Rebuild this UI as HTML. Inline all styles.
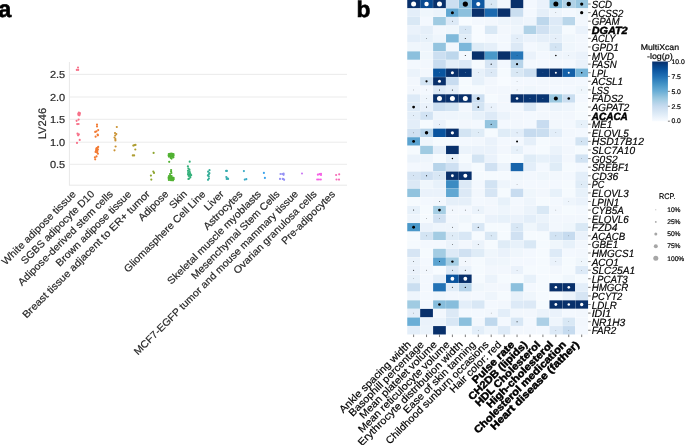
<!DOCTYPE html>
<html lang="en">
<head>
<meta charset="utf-8">
<title>LV246 figure</title>
<style>
html,body{margin:0;padding:0;background:#fff;}
body{width:685px;height:445px;overflow:hidden;font-family:"Liberation Sans",sans-serif;}
text{stroke-width:0.18px;}
svg{display:block;font-family:"Liberation Sans",sans-serif;will-change:transform;transform:translateZ(0);text-rendering:geometricPrecision;}
</style>
</head>
<body>
<svg width="685" height="445" viewBox="0 0 685 445">
<rect x="0" y="0" width="685" height="445" fill="#fff"/>
<g id="panel-a">
<line x1="69.4" x2="347.0" y1="74.4" y2="74.4" stroke="#e9e9e9" stroke-width="0.9"/>
<line x1="69.4" x2="347.0" y1="97.0" y2="97.0" stroke="#e9e9e9" stroke-width="0.9"/>
<line x1="69.4" x2="347.0" y1="119.3" y2="119.3" stroke="#e9e9e9" stroke-width="0.9"/>
<line x1="69.4" x2="347.0" y1="142.2" y2="142.2" stroke="#e9e9e9" stroke-width="0.9"/>
<line x1="69.4" x2="347.0" y1="164.3" y2="164.3" stroke="#e9e9e9" stroke-width="0.9"/>
<line x1="69.4" x2="69.4" y1="62.0" y2="185.2" stroke="#e8e8e8" stroke-width="1.0"/>
<line x1="68.9" x2="347.0" y1="185.2" y2="185.2" stroke="#e8e8e8" stroke-width="1.0"/>
<text x="65.2" y="78.30" font-size="10.15" text-anchor="end" textLength="15.27" lengthAdjust="spacingAndGlyphs" fill="#262626" stroke="#262626">2.5</text>
<text x="65.2" y="100.90" font-size="10.15" text-anchor="end" textLength="15.27" lengthAdjust="spacingAndGlyphs" fill="#262626" stroke="#262626">2.0</text>
<text x="65.2" y="123.20" font-size="10.15" text-anchor="end" textLength="15.27" lengthAdjust="spacingAndGlyphs" fill="#262626" stroke="#262626">1.5</text>
<text x="65.2" y="146.10" font-size="10.15" text-anchor="end" textLength="15.27" lengthAdjust="spacingAndGlyphs" fill="#262626" stroke="#262626">1.0</text>
<text x="65.2" y="168.20" font-size="10.15" text-anchor="end" textLength="15.27" lengthAdjust="spacingAndGlyphs" fill="#262626" stroke="#262626">0.5</text>
<text transform="translate(46.3,123.6) rotate(-90)" font-size="10.9" text-anchor="middle" textLength="31.31" lengthAdjust="spacingAndGlyphs" fill="#262626" stroke="#262626">LV246</text>
<g fill="#f77189">
<circle cx="78.0" cy="67.5" r="1.08"/>
<circle cx="76.8" cy="69.9" r="1.08"/>
<circle cx="78.2" cy="69.9" r="1.08"/>
<circle cx="79.0" cy="113.4" r="1.08"/>
<circle cx="79.6" cy="114.7" r="1.08"/>
<circle cx="78.4" cy="114.8" r="1.08"/>
<circle cx="78.9" cy="112.6" r="1.08"/>
<circle cx="79.9" cy="113.2" r="1.08"/>
<circle cx="78.3" cy="113.6" r="1.08"/>
<circle cx="79.2" cy="115.3" r="1.08"/>
<circle cx="78.6" cy="119.6" r="1.08"/>
<circle cx="76.6" cy="120.8" r="1.08"/>
<circle cx="77.2" cy="124.1" r="1.08"/>
<circle cx="78.6" cy="124.0" r="1.08"/>
<circle cx="77.5" cy="133.7" r="1.08"/>
<circle cx="78.8" cy="134.4" r="1.08"/>
<circle cx="78.1" cy="135.3" r="1.08"/>
<circle cx="79.7" cy="139.9" r="1.08"/>
<circle cx="77.0" cy="142.9" r="1.08"/>
</g>
<g fill="#f37a32">
<circle cx="97.0" cy="124.7" r="1.08"/>
<circle cx="97.0" cy="126.5" r="1.08"/>
<circle cx="98.2" cy="130.1" r="1.08"/>
<circle cx="96.5" cy="131.3" r="1.08"/>
<circle cx="95.2" cy="131.9" r="1.08"/>
<circle cx="97.6" cy="134.6" r="1.08"/>
<circle cx="97.9" cy="135.3" r="1.08"/>
<circle cx="95.6" cy="136.7" r="1.08"/>
<circle cx="98.2" cy="146.9" r="1.08"/>
<circle cx="96.5" cy="148.3" r="1.08"/>
<circle cx="97.9" cy="149.4" r="1.08"/>
<circle cx="96.1" cy="150.3" r="1.08"/>
<circle cx="97.4" cy="151.0" r="1.08"/>
<circle cx="95.6" cy="151.9" r="1.08"/>
<circle cx="97.0" cy="152.5" r="1.08"/>
<circle cx="97.9" cy="153.7" r="1.08"/>
<circle cx="96.4" cy="149.2" r="1.08"/>
<circle cx="97.2" cy="147.8" r="1.08"/>
<circle cx="96.9" cy="150.6" r="1.08"/>
<circle cx="96.5" cy="156.4" r="1.08"/>
<circle cx="94.9" cy="157.3" r="1.08"/>
<circle cx="95.2" cy="159.3" r="1.08"/>
</g>
<g fill="#ca9232">
<circle cx="116.8" cy="127.0" r="1.08"/>
<circle cx="115.0" cy="133.0" r="1.08"/>
<circle cx="116.3" cy="134.1" r="1.08"/>
<circle cx="115.2" cy="135.5" r="1.08"/>
<circle cx="114.5" cy="137.5" r="1.08"/>
<circle cx="115.4" cy="139.1" r="1.08"/>
<circle cx="115.4" cy="140.4" r="1.08"/>
<circle cx="115.6" cy="146.5" r="1.08"/>
<circle cx="114.5" cy="150.3" r="1.08"/>
</g>
<g fill="#ae9d31">
<circle cx="133.3" cy="145.6" r="1.08"/>
<circle cx="134.4" cy="145.2" r="1.08"/>
<circle cx="135.5" cy="144.9" r="1.08"/>
<circle cx="135.3" cy="149.5" r="1.08"/>
<circle cx="132.8" cy="155.4" r="1.08"/>
<circle cx="134.1" cy="155.4" r="1.08"/>
</g>
<g fill="#8ea631">
<circle cx="153.6" cy="152.9" r="1.08"/>
<circle cx="153.3" cy="171.6" r="1.08"/>
<circle cx="154.0" cy="172.9" r="1.08"/>
<circle cx="150.9" cy="175.6" r="1.08"/>
<circle cx="151.3" cy="179.6" r="1.08"/>
</g>
<g fill="#50b131">
<circle cx="168.8" cy="154.0" r="1.08"/>
<circle cx="170.0" cy="153.8" r="1.08"/>
<circle cx="171.2" cy="153.6" r="1.08"/>
<circle cx="172.4" cy="153.9" r="1.08"/>
<circle cx="173.5" cy="154.2" r="1.08"/>
<circle cx="168.6" cy="155.3" r="1.08"/>
<circle cx="169.8" cy="155.2" r="1.08"/>
<circle cx="171.0" cy="155.0" r="1.08"/>
<circle cx="172.2" cy="155.3" r="1.08"/>
<circle cx="173.6" cy="155.6" r="1.08"/>
<circle cx="168.9" cy="156.6" r="1.08"/>
<circle cx="170.2" cy="156.5" r="1.08"/>
<circle cx="171.5" cy="156.6" r="1.08"/>
<circle cx="172.8" cy="156.8" r="1.08"/>
<circle cx="173.4" cy="157.3" r="1.08"/>
<circle cx="170.6" cy="157.8" r="1.08"/>
<circle cx="171.6" cy="158.6" r="1.08"/>
<circle cx="169.2" cy="161.8" r="1.08"/>
<circle cx="171.1" cy="170.0" r="1.08"/>
<circle cx="171.1" cy="171.5" r="1.08"/>
<circle cx="170.0" cy="174.0" r="1.08"/>
<circle cx="171.4" cy="173.0" r="1.08"/>
<circle cx="169.0" cy="176.0" r="1.08"/>
<circle cx="170.3" cy="175.8" r="1.08"/>
<circle cx="171.6" cy="176.0" r="1.08"/>
<circle cx="168.6" cy="177.3" r="1.08"/>
<circle cx="169.9" cy="177.2" r="1.08"/>
<circle cx="171.2" cy="177.3" r="1.08"/>
<circle cx="172.5" cy="177.5" r="1.08"/>
<circle cx="173.6" cy="177.8" r="1.08"/>
<circle cx="168.7" cy="178.7" r="1.08"/>
<circle cx="170.0" cy="178.6" r="1.08"/>
<circle cx="171.3" cy="178.7" r="1.08"/>
<circle cx="172.6" cy="178.9" r="1.08"/>
<circle cx="173.7" cy="179.2" r="1.08"/>
<circle cx="168.9" cy="180.0" r="1.08"/>
<circle cx="170.3" cy="180.1" r="1.08"/>
<circle cx="171.7" cy="180.2" r="1.08"/>
<circle cx="173.0" cy="180.3" r="1.08"/>
</g>
<g fill="#33b07a">
<circle cx="189.7" cy="161.7" r="1.08"/>
<circle cx="187.9" cy="166.4" r="1.08"/>
<circle cx="188.4" cy="168.6" r="1.08"/>
<circle cx="189.4" cy="169.6" r="1.08"/>
<circle cx="188.0" cy="170.8" r="1.08"/>
<circle cx="189.6" cy="171.4" r="1.08"/>
<circle cx="188.3" cy="172.6" r="1.08"/>
<circle cx="190.0" cy="173.0" r="1.08"/>
<circle cx="188.0" cy="174.2" r="1.08"/>
<circle cx="189.4" cy="174.6" r="1.08"/>
<circle cx="190.4" cy="174.0" r="1.08"/>
<circle cx="188.6" cy="175.8" r="1.08"/>
<circle cx="190.0" cy="176.0" r="1.08"/>
<circle cx="191.2" cy="175.2" r="1.08"/>
<circle cx="190.3" cy="177.4" r="1.08"/>
<circle cx="189.0" cy="178.6" r="1.08"/>
<circle cx="188.4" cy="179.0" r="1.08"/>
</g>
<g fill="#35ae99">
<circle cx="209.5" cy="170.2" r="1.08"/>
<circle cx="208.1" cy="171.7" r="1.08"/>
<circle cx="208.8" cy="174.4" r="1.08"/>
<circle cx="207.9" cy="175.4" r="1.08"/>
<circle cx="208.8" cy="176.5" r="1.08"/>
<circle cx="208.9" cy="178.6" r="1.08"/>
<circle cx="208.0" cy="179.8" r="1.08"/>
<circle cx="209.4" cy="173.2" r="1.08"/>
</g>
<g fill="#36acae">
<circle cx="226.1" cy="170.9" r="1.08"/>
<circle cx="226.9" cy="170.9" r="1.08"/>
<circle cx="226.3" cy="177.0" r="1.08"/>
<circle cx="227.4" cy="178.3" r="1.08"/>
<circle cx="226.7" cy="178.9" r="1.08"/>
<circle cx="228.1" cy="178.9" r="1.08"/>
</g>
<g fill="#38a9c5">
<circle cx="243.9" cy="171.1" r="1.08"/>
<circle cx="244.8" cy="179.6" r="1.08"/>
<circle cx="246.3" cy="179.2" r="1.08"/>
</g>
<g fill="#3ba3ec">
<circle cx="263.9" cy="172.9" r="1.08"/>
<circle cx="264.9" cy="177.9" r="1.08"/>
</g>
<g fill="#9591f4">
<circle cx="280.5" cy="174.0" r="1.08"/>
<circle cx="282.3" cy="174.0" r="1.08"/>
<circle cx="283.6" cy="173.5" r="1.08"/>
<circle cx="283.6" cy="174.8" r="1.08"/>
<circle cx="280.0" cy="178.9" r="1.08"/>
<circle cx="282.7" cy="178.9" r="1.08"/>
<circle cx="284.1" cy="179.8" r="1.08"/>
<circle cx="283.4" cy="179.0" r="1.08"/>
</g>
<g fill="#cc7af4">
<circle cx="302.0" cy="173.5" r="1.08"/>
</g>
<g fill="#f560e4">
<circle cx="317.9" cy="174.7" r="1.08"/>
<circle cx="319.5" cy="174.2" r="1.08"/>
<circle cx="321.0" cy="173.8" r="1.08"/>
<circle cx="321.0" cy="175.0" r="1.08"/>
<circle cx="317.2" cy="179.5" r="1.08"/>
<circle cx="318.9" cy="179.5" r="1.08"/>
<circle cx="320.8" cy="179.5" r="1.08"/>
</g>
<g fill="#f66ab7">
<circle cx="336.1" cy="175.0" r="1.08"/>
<circle cx="339.2" cy="174.3" r="1.08"/>
<circle cx="336.5" cy="179.5" r="1.08"/>
<circle cx="339.0" cy="179.6" r="1.08"/>
</g>
<text transform="translate(76.50,194.7) rotate(-45)" font-size="10.15" text-anchor="end" textLength="99.96" lengthAdjust="spacingAndGlyphs" fill="#262626" stroke="#262626">White adipose tissue</text>
<text transform="translate(95.02,194.7) rotate(-45)" font-size="10.15" text-anchor="end" textLength="99.00" lengthAdjust="spacingAndGlyphs" fill="#262626" stroke="#262626">SGBS adipocyte D10</text>
<text transform="translate(113.54,194.7) rotate(-45)" font-size="10.15" text-anchor="end" textLength="129.44" lengthAdjust="spacingAndGlyphs" fill="#262626" stroke="#262626">Adipose-derived stem cells</text>
<text transform="translate(132.06,194.7) rotate(-45)" font-size="10.15" text-anchor="end" textLength="102.18" lengthAdjust="spacingAndGlyphs" fill="#262626" stroke="#262626">Brown adipose tissue</text>
<text transform="translate(150.58,194.7) rotate(-45)" font-size="10.15" text-anchor="end" textLength="175.56" lengthAdjust="spacingAndGlyphs" fill="#262626" stroke="#262626">Breast tissue adjacent to ER+ tumor</text>
<text transform="translate(169.10,194.7) rotate(-45)" font-size="10.15" text-anchor="end" textLength="38.03" lengthAdjust="spacingAndGlyphs" fill="#262626" stroke="#262626">Adipose</text>
<text transform="translate(187.62,194.7) rotate(-45)" font-size="10.15" text-anchor="end" textLength="20.41" lengthAdjust="spacingAndGlyphs" fill="#262626" stroke="#262626">Skin</text>
<text transform="translate(206.14,194.7) rotate(-45)" font-size="10.15" text-anchor="end" textLength="110.66" lengthAdjust="spacingAndGlyphs" fill="#262626" stroke="#262626">Gliomasphere Cell Line</text>
<text transform="translate(224.66,194.7) rotate(-45)" font-size="10.15" text-anchor="end" textLength="23.55" lengthAdjust="spacingAndGlyphs" fill="#262626" stroke="#262626">Liver</text>
<text transform="translate(243.18,194.7) rotate(-45)" font-size="10.15" text-anchor="end" textLength="50.57" lengthAdjust="spacingAndGlyphs" fill="#262626" stroke="#262626">Astrocytes</text>
<text transform="translate(261.70,194.7) rotate(-45)" font-size="10.15" text-anchor="end" textLength="127.82" lengthAdjust="spacingAndGlyphs" fill="#262626" stroke="#262626">Skeletal muscle myoblasts</text>
<text transform="translate(280.22,194.7) rotate(-45)" font-size="10.15" text-anchor="end" textLength="120.29" lengthAdjust="spacingAndGlyphs" fill="#262626" stroke="#262626">Mesenchymal Stem Cells</text>
<text transform="translate(298.74,194.7) rotate(-45)" font-size="10.15" text-anchor="end" textLength="227.33" lengthAdjust="spacingAndGlyphs" fill="#262626" stroke="#262626">MCF7-EGFP tumor and mouse mammary tissue</text>
<text transform="translate(317.26,194.7) rotate(-45)" font-size="10.15" text-anchor="end" textLength="112.84" lengthAdjust="spacingAndGlyphs" fill="#262626" stroke="#262626">Ovarian granulosa cells</text>
<text transform="translate(335.78,194.7) rotate(-45)" font-size="10.15" text-anchor="end" textLength="70.97" lengthAdjust="spacingAndGlyphs" fill="#262626" stroke="#262626">Pre-adipocytes</text>
</g>
<g id="panel-b">
<g shape-rendering="auto">
<rect x="407.25" y="-0.15" width="12.73" height="8.39" fill="#08306b"/>
<rect x="420.18" y="-0.15" width="12.73" height="8.39" fill="#084a91"/>
<rect x="433.11" y="-0.15" width="12.73" height="8.39" fill="#08306b"/>
<rect x="446.04" y="-0.15" width="12.73" height="8.39" fill="#ccdff1"/>
<rect x="458.97" y="-0.15" width="12.73" height="8.39" fill="#87bddc"/>
<rect x="471.90" y="-0.15" width="12.73" height="8.39" fill="#0d57a1"/>
<rect x="484.83" y="-0.15" width="12.73" height="8.39" fill="#d9e8f5"/>
<rect x="497.76" y="-0.15" width="12.73" height="8.39" fill="#f2f7fd"/>
<rect x="510.69" y="-0.15" width="12.73" height="8.39" fill="#08306b"/>
<rect x="523.62" y="-0.15" width="12.73" height="8.39" fill="#f3f8fe"/>
<rect x="536.55" y="-0.15" width="12.73" height="8.39" fill="#eaf2fb"/>
<rect x="549.48" y="-0.15" width="12.73" height="8.39" fill="#84bcdb"/>
<rect x="562.41" y="-0.15" width="12.73" height="8.39" fill="#b0d2e7"/>
<rect x="575.34" y="-0.15" width="12.73" height="8.39" fill="#99c7e0"/>
<rect x="407.25" y="8.44" width="12.73" height="8.39" fill="#e3eef9"/>
<rect x="420.18" y="8.44" width="12.73" height="8.39" fill="#eff6fc"/>
<rect x="433.11" y="8.44" width="12.73" height="8.39" fill="#ebf3fb"/>
<rect x="446.04" y="8.44" width="12.73" height="8.39" fill="#61a7d2"/>
<rect x="458.97" y="8.44" width="12.73" height="8.39" fill="#8cc0dd"/>
<rect x="471.90" y="8.44" width="12.73" height="8.39" fill="#08306b"/>
<rect x="484.83" y="8.44" width="12.73" height="8.39" fill="#1b69af"/>
<rect x="497.76" y="8.44" width="12.73" height="8.39" fill="#08306b"/>
<rect x="510.69" y="8.44" width="12.73" height="8.39" fill="#cadef0"/>
<rect x="523.62" y="8.44" width="12.73" height="8.39" fill="#f3f8fe"/>
<rect x="536.55" y="8.44" width="12.73" height="8.39" fill="#e5eff9"/>
<rect x="549.48" y="8.44" width="12.73" height="8.39" fill="#eef5fc"/>
<rect x="562.41" y="8.44" width="12.73" height="8.39" fill="#f3f8fe"/>
<rect x="575.34" y="8.44" width="12.73" height="8.39" fill="#eff6fc"/>
<rect x="407.25" y="17.02" width="12.73" height="8.39" fill="#d9e8f5"/>
<rect x="420.18" y="17.02" width="12.73" height="8.39" fill="#f3f8fe"/>
<rect x="433.11" y="17.02" width="12.73" height="8.39" fill="#a0cbe2"/>
<rect x="446.04" y="17.02" width="12.73" height="8.39" fill="#ddeaf7"/>
<rect x="458.97" y="17.02" width="12.73" height="8.39" fill="#f7fbff"/>
<rect x="471.90" y="17.02" width="12.73" height="8.39" fill="#f3f8fe"/>
<rect x="484.83" y="17.02" width="12.73" height="8.39" fill="#f2f7fd"/>
<rect x="497.76" y="17.02" width="12.73" height="8.39" fill="#eef5fc"/>
<rect x="510.69" y="17.02" width="12.73" height="8.39" fill="#ebf3fb"/>
<rect x="523.62" y="17.02" width="12.73" height="8.39" fill="#eef5fc"/>
<rect x="536.55" y="17.02" width="12.73" height="8.39" fill="#bdd7ec"/>
<rect x="549.48" y="17.02" width="12.73" height="8.39" fill="#ddeaf7"/>
<rect x="562.41" y="17.02" width="12.73" height="8.39" fill="#b9d6ea"/>
<rect x="575.34" y="17.02" width="12.73" height="8.39" fill="#f2f7fd"/>
<rect x="407.25" y="25.61" width="12.73" height="8.39" fill="#eaf2fb"/>
<rect x="420.18" y="25.61" width="12.73" height="8.39" fill="#e5eff9"/>
<rect x="433.11" y="25.61" width="12.73" height="8.39" fill="#f2f7fd"/>
<rect x="446.04" y="25.61" width="12.73" height="8.39" fill="#eff6fc"/>
<rect x="458.97" y="25.61" width="12.73" height="8.39" fill="#d8e7f5"/>
<rect x="471.90" y="25.61" width="12.73" height="8.39" fill="#f7fbff"/>
<rect x="484.83" y="25.61" width="12.73" height="8.39" fill="#d9e8f5"/>
<rect x="497.76" y="25.61" width="12.73" height="8.39" fill="#f2f7fd"/>
<rect x="510.69" y="25.61" width="12.73" height="8.39" fill="#eef5fc"/>
<rect x="523.62" y="25.61" width="12.73" height="8.39" fill="#b0d2e7"/>
<rect x="536.55" y="25.61" width="12.73" height="8.39" fill="#d0e1f2"/>
<rect x="549.48" y="25.61" width="12.73" height="8.39" fill="#dfecf7"/>
<rect x="562.41" y="25.61" width="12.73" height="8.39" fill="#f5fafe"/>
<rect x="575.34" y="25.61" width="12.73" height="8.39" fill="#eaf2fb"/>
<rect x="407.25" y="34.19" width="12.73" height="8.39" fill="#e3eef9"/>
<rect x="420.18" y="34.19" width="12.73" height="8.39" fill="#e7f1fa"/>
<rect x="433.11" y="34.19" width="12.73" height="8.39" fill="#eef5fc"/>
<rect x="446.04" y="34.19" width="12.73" height="8.39" fill="#7fb9da"/>
<rect x="458.97" y="34.19" width="12.73" height="8.39" fill="#e1edf8"/>
<rect x="471.90" y="34.19" width="12.73" height="8.39" fill="#f7fbff"/>
<rect x="484.83" y="34.19" width="12.73" height="8.39" fill="#f3f8fe"/>
<rect x="497.76" y="34.19" width="12.73" height="8.39" fill="#f3f8fe"/>
<rect x="510.69" y="34.19" width="12.73" height="8.39" fill="#e3eef9"/>
<rect x="523.62" y="34.19" width="12.73" height="8.39" fill="#eaf2fb"/>
<rect x="536.55" y="34.19" width="12.73" height="8.39" fill="#e5eff9"/>
<rect x="549.48" y="34.19" width="12.73" height="8.39" fill="#e5eff9"/>
<rect x="562.41" y="34.19" width="12.73" height="8.39" fill="#eff6fc"/>
<rect x="575.34" y="34.19" width="12.73" height="8.39" fill="#f2f7fd"/>
<rect x="407.25" y="42.78" width="12.73" height="8.39" fill="#eff6fc"/>
<rect x="420.18" y="42.78" width="12.73" height="8.39" fill="#eef5fc"/>
<rect x="433.11" y="42.78" width="12.73" height="8.39" fill="#94c4df"/>
<rect x="446.04" y="42.78" width="12.73" height="8.39" fill="#f2f7fd"/>
<rect x="458.97" y="42.78" width="12.73" height="8.39" fill="#7cb7da"/>
<rect x="471.90" y="42.78" width="12.73" height="8.39" fill="#dfecf7"/>
<rect x="484.83" y="42.78" width="12.73" height="8.39" fill="#e5eff9"/>
<rect x="497.76" y="42.78" width="12.73" height="8.39" fill="#f3f8fe"/>
<rect x="510.69" y="42.78" width="12.73" height="8.39" fill="#dce9f6"/>
<rect x="523.62" y="42.78" width="12.73" height="8.39" fill="#f3f8fe"/>
<rect x="536.55" y="42.78" width="12.73" height="8.39" fill="#eff6fc"/>
<rect x="549.48" y="42.78" width="12.73" height="8.39" fill="#d3e4f3"/>
<rect x="562.41" y="42.78" width="12.73" height="8.39" fill="#eff6fc"/>
<rect x="575.34" y="42.78" width="12.73" height="8.39" fill="#f2f7fd"/>
<rect x="407.25" y="51.36" width="12.73" height="8.39" fill="#8cc0dd"/>
<rect x="420.18" y="51.36" width="12.73" height="8.39" fill="#eff6fc"/>
<rect x="433.11" y="51.36" width="12.73" height="8.39" fill="#ccdff1"/>
<rect x="446.04" y="51.36" width="12.73" height="8.39" fill="#bdd7ec"/>
<rect x="458.97" y="51.36" width="12.73" height="8.39" fill="#f3f8fe"/>
<rect x="471.90" y="51.36" width="12.73" height="8.39" fill="#08306b"/>
<rect x="484.83" y="51.36" width="12.73" height="8.39" fill="#4a98c9"/>
<rect x="497.76" y="51.36" width="12.73" height="8.39" fill="#08306b"/>
<rect x="510.69" y="51.36" width="12.73" height="8.39" fill="#2676b8"/>
<rect x="523.62" y="51.36" width="12.73" height="8.39" fill="#eaf2fb"/>
<rect x="536.55" y="51.36" width="12.73" height="8.39" fill="#f3f8fe"/>
<rect x="549.48" y="51.36" width="12.73" height="8.39" fill="#eef5fc"/>
<rect x="562.41" y="51.36" width="12.73" height="8.39" fill="#eef5fc"/>
<rect x="575.34" y="51.36" width="12.73" height="8.39" fill="#eaf2fb"/>
<rect x="407.25" y="59.95" width="12.73" height="8.39" fill="#f3f8fe"/>
<rect x="420.18" y="59.95" width="12.73" height="8.39" fill="#f2f7fd"/>
<rect x="433.11" y="59.95" width="12.73" height="8.39" fill="#c8dcf0"/>
<rect x="446.04" y="59.95" width="12.73" height="8.39" fill="#e3eef9"/>
<rect x="458.97" y="59.95" width="12.73" height="8.39" fill="#ddeaf7"/>
<rect x="471.90" y="59.95" width="12.73" height="8.39" fill="#f5fafe"/>
<rect x="484.83" y="59.95" width="12.73" height="8.39" fill="#d6e5f4"/>
<rect x="497.76" y="59.95" width="12.73" height="8.39" fill="#f3f8fe"/>
<rect x="510.69" y="59.95" width="12.73" height="8.39" fill="#b7d4ea"/>
<rect x="523.62" y="59.95" width="12.73" height="8.39" fill="#f3f8fe"/>
<rect x="536.55" y="59.95" width="12.73" height="8.39" fill="#f3f8fe"/>
<rect x="549.48" y="59.95" width="12.73" height="8.39" fill="#f3f8fe"/>
<rect x="562.41" y="59.95" width="12.73" height="8.39" fill="#f3f8fe"/>
<rect x="575.34" y="59.95" width="12.73" height="8.39" fill="#eaf2fb"/>
<rect x="407.25" y="68.53" width="12.73" height="8.39" fill="#ebf3fb"/>
<rect x="420.18" y="68.53" width="12.73" height="8.39" fill="#f2f7fd"/>
<rect x="433.11" y="68.53" width="12.73" height="8.39" fill="#0a549e"/>
<rect x="446.04" y="68.53" width="12.73" height="8.39" fill="#08306b"/>
<rect x="458.97" y="68.53" width="12.73" height="8.39" fill="#083573"/>
<rect x="471.90" y="68.53" width="12.73" height="8.39" fill="#e7f1fa"/>
<rect x="484.83" y="68.53" width="12.73" height="8.39" fill="#dce9f6"/>
<rect x="497.76" y="68.53" width="12.73" height="8.39" fill="#f5fafe"/>
<rect x="510.69" y="68.53" width="12.73" height="8.39" fill="#d9e8f5"/>
<rect x="523.62" y="68.53" width="12.73" height="8.39" fill="#ccdff1"/>
<rect x="536.55" y="68.53" width="12.73" height="8.39" fill="#083776"/>
<rect x="549.48" y="68.53" width="12.73" height="8.39" fill="#08306b"/>
<rect x="562.41" y="68.53" width="12.73" height="8.39" fill="#135fa7"/>
<rect x="575.34" y="68.53" width="12.73" height="8.39" fill="#77b5d9"/>
<rect x="407.25" y="77.12" width="12.73" height="8.39" fill="#f2f7fd"/>
<rect x="420.18" y="77.12" width="12.73" height="8.39" fill="#d3e4f3"/>
<rect x="433.11" y="77.12" width="12.73" height="8.39" fill="#08306b"/>
<rect x="446.04" y="77.12" width="12.73" height="8.39" fill="#c8dcf0"/>
<rect x="458.97" y="77.12" width="12.73" height="8.39" fill="#f5fafe"/>
<rect x="471.90" y="77.12" width="12.73" height="8.39" fill="#e7f1fa"/>
<rect x="484.83" y="77.12" width="12.73" height="8.39" fill="#f2f7fd"/>
<rect x="497.76" y="77.12" width="12.73" height="8.39" fill="#f7fbff"/>
<rect x="510.69" y="77.12" width="12.73" height="8.39" fill="#f3f8fe"/>
<rect x="523.62" y="77.12" width="12.73" height="8.39" fill="#f3f8fe"/>
<rect x="536.55" y="77.12" width="12.73" height="8.39" fill="#f2f7fd"/>
<rect x="549.48" y="77.12" width="12.73" height="8.39" fill="#f2f7fd"/>
<rect x="562.41" y="77.12" width="12.73" height="8.39" fill="#f2f7fd"/>
<rect x="575.34" y="77.12" width="12.73" height="8.39" fill="#f3f8fe"/>
<rect x="407.25" y="85.70" width="12.73" height="8.39" fill="#f2f7fd"/>
<rect x="420.18" y="85.70" width="12.73" height="8.39" fill="#f3f8fe"/>
<rect x="433.11" y="85.70" width="12.73" height="8.39" fill="#ddeaf7"/>
<rect x="446.04" y="85.70" width="12.73" height="8.39" fill="#e5eff9"/>
<rect x="458.97" y="85.70" width="12.73" height="8.39" fill="#f5fafe"/>
<rect x="471.90" y="85.70" width="12.73" height="8.39" fill="#f5fafe"/>
<rect x="484.83" y="85.70" width="12.73" height="8.39" fill="#f2f7fd"/>
<rect x="497.76" y="85.70" width="12.73" height="8.39" fill="#f2f7fd"/>
<rect x="510.69" y="85.70" width="12.73" height="8.39" fill="#f2f7fd"/>
<rect x="523.62" y="85.70" width="12.73" height="8.39" fill="#eff6fc"/>
<rect x="536.55" y="85.70" width="12.73" height="8.39" fill="#f2f7fd"/>
<rect x="549.48" y="85.70" width="12.73" height="8.39" fill="#f3f8fe"/>
<rect x="562.41" y="85.70" width="12.73" height="8.39" fill="#f3f8fe"/>
<rect x="575.34" y="85.70" width="12.73" height="8.39" fill="#eff6fc"/>
<rect x="407.25" y="94.28" width="12.73" height="8.39" fill="#ddeaf7"/>
<rect x="420.18" y="94.28" width="12.73" height="8.39" fill="#eef5fc"/>
<rect x="433.11" y="94.28" width="12.73" height="8.39" fill="#08306b"/>
<rect x="446.04" y="94.28" width="12.73" height="8.39" fill="#08306b"/>
<rect x="458.97" y="94.28" width="12.73" height="8.39" fill="#08306b"/>
<rect x="471.90" y="94.28" width="12.73" height="8.39" fill="#ccdff1"/>
<rect x="484.83" y="94.28" width="12.73" height="8.39" fill="#f5fafe"/>
<rect x="497.76" y="94.28" width="12.73" height="8.39" fill="#f2f7fd"/>
<rect x="510.69" y="94.28" width="12.73" height="8.39" fill="#08306b"/>
<rect x="523.62" y="94.28" width="12.73" height="8.39" fill="#083573"/>
<rect x="536.55" y="94.28" width="12.73" height="8.39" fill="#083573"/>
<rect x="549.48" y="94.28" width="12.73" height="8.39" fill="#9cc9e1"/>
<rect x="562.41" y="94.28" width="12.73" height="8.39" fill="#cadef0"/>
<rect x="575.34" y="94.28" width="12.73" height="8.39" fill="#f3f8fe"/>
<rect x="407.25" y="102.87" width="12.73" height="8.39" fill="#ddeaf7"/>
<rect x="420.18" y="102.87" width="12.73" height="8.39" fill="#eaf2fb"/>
<rect x="433.11" y="102.87" width="12.73" height="8.39" fill="#ccdff1"/>
<rect x="446.04" y="102.87" width="12.73" height="8.39" fill="#d3e4f3"/>
<rect x="458.97" y="102.87" width="12.73" height="8.39" fill="#f2f7fd"/>
<rect x="471.90" y="102.87" width="12.73" height="8.39" fill="#d3e4f3"/>
<rect x="484.83" y="102.87" width="12.73" height="8.39" fill="#eaf2fb"/>
<rect x="497.76" y="102.87" width="12.73" height="8.39" fill="#f2f7fd"/>
<rect x="510.69" y="102.87" width="12.73" height="8.39" fill="#f2f7fd"/>
<rect x="523.62" y="102.87" width="12.73" height="8.39" fill="#dce9f6"/>
<rect x="536.55" y="102.87" width="12.73" height="8.39" fill="#f2f7fd"/>
<rect x="549.48" y="102.87" width="12.73" height="8.39" fill="#ebf3fb"/>
<rect x="562.41" y="102.87" width="12.73" height="8.39" fill="#eef5fc"/>
<rect x="575.34" y="102.87" width="12.73" height="8.39" fill="#f5fafe"/>
<rect x="407.25" y="111.46" width="12.73" height="8.39" fill="#e3eef9"/>
<rect x="420.18" y="111.46" width="12.73" height="8.39" fill="#d2e3f3"/>
<rect x="433.11" y="111.46" width="12.73" height="8.39" fill="#eef5fc"/>
<rect x="446.04" y="111.46" width="12.73" height="8.39" fill="#eef5fc"/>
<rect x="458.97" y="111.46" width="12.73" height="8.39" fill="#eff6fc"/>
<rect x="471.90" y="111.46" width="12.73" height="8.39" fill="#e7f1fa"/>
<rect x="484.83" y="111.46" width="12.73" height="8.39" fill="#ddeaf7"/>
<rect x="497.76" y="111.46" width="12.73" height="8.39" fill="#ebf3fb"/>
<rect x="510.69" y="111.46" width="12.73" height="8.39" fill="#f2f7fd"/>
<rect x="523.62" y="111.46" width="12.73" height="8.39" fill="#f3f8fe"/>
<rect x="536.55" y="111.46" width="12.73" height="8.39" fill="#f2f7fd"/>
<rect x="549.48" y="111.46" width="12.73" height="8.39" fill="#f2f7fd"/>
<rect x="562.41" y="111.46" width="12.73" height="8.39" fill="#f2f7fd"/>
<rect x="575.34" y="111.46" width="12.73" height="8.39" fill="#f5fafe"/>
<rect x="407.25" y="120.04" width="12.73" height="8.39" fill="#e3eef9"/>
<rect x="420.18" y="120.04" width="12.73" height="8.39" fill="#f5fafe"/>
<rect x="433.11" y="120.04" width="12.73" height="8.39" fill="#eaf2fb"/>
<rect x="446.04" y="120.04" width="12.73" height="8.39" fill="#f5fafe"/>
<rect x="458.97" y="120.04" width="12.73" height="8.39" fill="#f2f7fd"/>
<rect x="471.90" y="120.04" width="12.73" height="8.39" fill="#f3f8fe"/>
<rect x="484.83" y="120.04" width="12.73" height="8.39" fill="#94c4df"/>
<rect x="497.76" y="120.04" width="12.73" height="8.39" fill="#f3f8fe"/>
<rect x="510.69" y="120.04" width="12.73" height="8.39" fill="#f2f7fd"/>
<rect x="523.62" y="120.04" width="12.73" height="8.39" fill="#f3f8fe"/>
<rect x="536.55" y="120.04" width="12.73" height="8.39" fill="#c8dcf0"/>
<rect x="549.48" y="120.04" width="12.73" height="8.39" fill="#f2f7fd"/>
<rect x="562.41" y="120.04" width="12.73" height="8.39" fill="#f3f8fe"/>
<rect x="575.34" y="120.04" width="12.73" height="8.39" fill="#e7f1fa"/>
<rect x="407.25" y="128.62" width="12.73" height="8.39" fill="#d0e1f2"/>
<rect x="420.18" y="128.62" width="12.73" height="8.39" fill="#b7d4ea"/>
<rect x="433.11" y="128.62" width="12.73" height="8.39" fill="#0a549e"/>
<rect x="446.04" y="128.62" width="12.73" height="8.39" fill="#08306b"/>
<rect x="458.97" y="128.62" width="12.73" height="8.39" fill="#d3e4f3"/>
<rect x="471.90" y="128.62" width="12.73" height="8.39" fill="#dfecf7"/>
<rect x="484.83" y="128.62" width="12.73" height="8.39" fill="#f5fafe"/>
<rect x="497.76" y="128.62" width="12.73" height="8.39" fill="#dfecf7"/>
<rect x="510.69" y="128.62" width="12.73" height="8.39" fill="#e3eef9"/>
<rect x="523.62" y="128.62" width="12.73" height="8.39" fill="#c6dbef"/>
<rect x="536.55" y="128.62" width="12.73" height="8.39" fill="#cadef0"/>
<rect x="549.48" y="128.62" width="12.73" height="8.39" fill="#e3eef9"/>
<rect x="562.41" y="128.62" width="12.73" height="8.39" fill="#f2f7fd"/>
<rect x="575.34" y="128.62" width="12.73" height="8.39" fill="#f3f8fe"/>
<rect x="407.25" y="137.21" width="12.73" height="8.39" fill="#5ba3d0"/>
<rect x="420.18" y="137.21" width="12.73" height="8.39" fill="#eff6fc"/>
<rect x="433.11" y="137.21" width="12.73" height="8.39" fill="#f5fafe"/>
<rect x="446.04" y="137.21" width="12.73" height="8.39" fill="#f5fafe"/>
<rect x="458.97" y="137.21" width="12.73" height="8.39" fill="#f3f8fe"/>
<rect x="471.90" y="137.21" width="12.73" height="8.39" fill="#f2f7fd"/>
<rect x="484.83" y="137.21" width="12.73" height="8.39" fill="#eaf2fb"/>
<rect x="497.76" y="137.21" width="12.73" height="8.39" fill="#f3f8fe"/>
<rect x="510.69" y="137.21" width="12.73" height="8.39" fill="#f3f8fe"/>
<rect x="523.62" y="137.21" width="12.73" height="8.39" fill="#e5eff9"/>
<rect x="536.55" y="137.21" width="12.73" height="8.39" fill="#f5fafe"/>
<rect x="549.48" y="137.21" width="12.73" height="8.39" fill="#f2f7fd"/>
<rect x="562.41" y="137.21" width="12.73" height="8.39" fill="#f3f8fe"/>
<rect x="575.34" y="137.21" width="12.73" height="8.39" fill="#d3e4f3"/>
<rect x="407.25" y="145.80" width="12.73" height="8.39" fill="#f5fafe"/>
<rect x="420.18" y="145.80" width="12.73" height="8.39" fill="#a0cbe2"/>
<rect x="433.11" y="145.80" width="12.73" height="8.39" fill="#e3eef9"/>
<rect x="446.04" y="145.80" width="12.73" height="8.39" fill="#08306b"/>
<rect x="458.97" y="145.80" width="12.73" height="8.39" fill="#ebf3fb"/>
<rect x="471.90" y="145.80" width="12.73" height="8.39" fill="#eaf2fb"/>
<rect x="484.83" y="145.80" width="12.73" height="8.39" fill="#eaf2fb"/>
<rect x="497.76" y="145.80" width="12.73" height="8.39" fill="#f2f7fd"/>
<rect x="510.69" y="145.80" width="12.73" height="8.39" fill="#e7f1fa"/>
<rect x="523.62" y="145.80" width="12.73" height="8.39" fill="#f3f8fe"/>
<rect x="536.55" y="145.80" width="12.73" height="8.39" fill="#f5fafe"/>
<rect x="549.48" y="145.80" width="12.73" height="8.39" fill="#ebf3fb"/>
<rect x="562.41" y="145.80" width="12.73" height="8.39" fill="#f2f7fd"/>
<rect x="575.34" y="145.80" width="12.73" height="8.39" fill="#f5fafe"/>
<rect x="407.25" y="154.38" width="12.73" height="8.39" fill="#ebf3fb"/>
<rect x="420.18" y="154.38" width="12.73" height="8.39" fill="#eef5fc"/>
<rect x="433.11" y="154.38" width="12.73" height="8.39" fill="#f5fafe"/>
<rect x="446.04" y="154.38" width="12.73" height="8.39" fill="#e7f1fa"/>
<rect x="458.97" y="154.38" width="12.73" height="8.39" fill="#f5fafe"/>
<rect x="471.90" y="154.38" width="12.73" height="8.39" fill="#d3e4f3"/>
<rect x="484.83" y="154.38" width="12.73" height="8.39" fill="#eaf2fb"/>
<rect x="497.76" y="154.38" width="12.73" height="8.39" fill="#f5fafe"/>
<rect x="510.69" y="154.38" width="12.73" height="8.39" fill="#f5fafe"/>
<rect x="523.62" y="154.38" width="12.73" height="8.39" fill="#dfecf7"/>
<rect x="536.55" y="154.38" width="12.73" height="8.39" fill="#e7f1fa"/>
<rect x="549.48" y="154.38" width="12.73" height="8.39" fill="#e3eef9"/>
<rect x="562.41" y="154.38" width="12.73" height="8.39" fill="#f2f7fd"/>
<rect x="575.34" y="154.38" width="12.73" height="8.39" fill="#d2e3f3"/>
<rect x="407.25" y="162.97" width="12.73" height="8.39" fill="#f3f8fe"/>
<rect x="420.18" y="162.97" width="12.73" height="8.39" fill="#f2f7fd"/>
<rect x="433.11" y="162.97" width="12.73" height="8.39" fill="#b7d4ea"/>
<rect x="446.04" y="162.97" width="12.73" height="8.39" fill="#cee0f2"/>
<rect x="458.97" y="162.97" width="12.73" height="8.39" fill="#eef5fc"/>
<rect x="471.90" y="162.97" width="12.73" height="8.39" fill="#f5fafe"/>
<rect x="484.83" y="162.97" width="12.73" height="8.39" fill="#d0e1f2"/>
<rect x="497.76" y="162.97" width="12.73" height="8.39" fill="#ebf3fb"/>
<rect x="510.69" y="162.97" width="12.73" height="8.39" fill="#1764ab"/>
<rect x="523.62" y="162.97" width="12.73" height="8.39" fill="#e3eef9"/>
<rect x="536.55" y="162.97" width="12.73" height="8.39" fill="#f3f8fe"/>
<rect x="549.48" y="162.97" width="12.73" height="8.39" fill="#dfecf7"/>
<rect x="562.41" y="162.97" width="12.73" height="8.39" fill="#f5fafe"/>
<rect x="575.34" y="162.97" width="12.73" height="8.39" fill="#f3f8fe"/>
<rect x="407.25" y="171.55" width="12.73" height="8.39" fill="#d6e5f4"/>
<rect x="420.18" y="171.55" width="12.73" height="8.39" fill="#cee0f2"/>
<rect x="433.11" y="171.55" width="12.73" height="8.39" fill="#d8e7f5"/>
<rect x="446.04" y="171.55" width="12.73" height="8.39" fill="#08306b"/>
<rect x="458.97" y="171.55" width="12.73" height="8.39" fill="#08306b"/>
<rect x="471.90" y="171.55" width="12.73" height="8.39" fill="#f5fafe"/>
<rect x="484.83" y="171.55" width="12.73" height="8.39" fill="#f5fafe"/>
<rect x="497.76" y="171.55" width="12.73" height="8.39" fill="#f5fafe"/>
<rect x="510.69" y="171.55" width="12.73" height="8.39" fill="#eff6fc"/>
<rect x="523.62" y="171.55" width="12.73" height="8.39" fill="#f2f7fd"/>
<rect x="536.55" y="171.55" width="12.73" height="8.39" fill="#eff6fc"/>
<rect x="549.48" y="171.55" width="12.73" height="8.39" fill="#f2f7fd"/>
<rect x="562.41" y="171.55" width="12.73" height="8.39" fill="#f3f8fe"/>
<rect x="575.34" y="171.55" width="12.73" height="8.39" fill="#e3eef9"/>
<rect x="407.25" y="180.14" width="12.73" height="8.39" fill="#dce9f6"/>
<rect x="420.18" y="180.14" width="12.73" height="8.39" fill="#eff6fc"/>
<rect x="433.11" y="180.14" width="12.73" height="8.39" fill="#e7f1fa"/>
<rect x="446.04" y="180.14" width="12.73" height="8.39" fill="#3b8bc2"/>
<rect x="458.97" y="180.14" width="12.73" height="8.39" fill="#dce9f6"/>
<rect x="471.90" y="180.14" width="12.73" height="8.39" fill="#f3f8fe"/>
<rect x="484.83" y="180.14" width="12.73" height="8.39" fill="#d2e3f3"/>
<rect x="497.76" y="180.14" width="12.73" height="8.39" fill="#eef5fc"/>
<rect x="510.69" y="180.14" width="12.73" height="8.39" fill="#f2f7fd"/>
<rect x="523.62" y="180.14" width="12.73" height="8.39" fill="#f3f8fe"/>
<rect x="536.55" y="180.14" width="12.73" height="8.39" fill="#f3f8fe"/>
<rect x="549.48" y="180.14" width="12.73" height="8.39" fill="#f3f8fe"/>
<rect x="562.41" y="180.14" width="12.73" height="8.39" fill="#f5fafe"/>
<rect x="575.34" y="180.14" width="12.73" height="8.39" fill="#dfecf7"/>
<rect x="407.25" y="188.72" width="12.73" height="8.39" fill="#91c3de"/>
<rect x="420.18" y="188.72" width="12.73" height="8.39" fill="#eaf2fb"/>
<rect x="433.11" y="188.72" width="12.73" height="8.39" fill="#eaf2fb"/>
<rect x="446.04" y="188.72" width="12.73" height="8.39" fill="#61a7d2"/>
<rect x="458.97" y="188.72" width="12.73" height="8.39" fill="#dce9f6"/>
<rect x="471.90" y="188.72" width="12.73" height="8.39" fill="#f2f7fd"/>
<rect x="484.83" y="188.72" width="12.73" height="8.39" fill="#d6e5f4"/>
<rect x="497.76" y="188.72" width="12.73" height="8.39" fill="#f5fafe"/>
<rect x="510.69" y="188.72" width="12.73" height="8.39" fill="#c8dcf0"/>
<rect x="523.62" y="188.72" width="12.73" height="8.39" fill="#eff6fc"/>
<rect x="536.55" y="188.72" width="12.73" height="8.39" fill="#f2f7fd"/>
<rect x="549.48" y="188.72" width="12.73" height="8.39" fill="#e7f1fa"/>
<rect x="562.41" y="188.72" width="12.73" height="8.39" fill="#f5fafe"/>
<rect x="575.34" y="188.72" width="12.73" height="8.39" fill="#e7f1fa"/>
<rect x="407.25" y="197.31" width="12.73" height="8.39" fill="#f5fafe"/>
<rect x="420.18" y="197.31" width="12.73" height="8.39" fill="#f3f8fe"/>
<rect x="433.11" y="197.31" width="12.73" height="8.39" fill="#f2f7fd"/>
<rect x="446.04" y="197.31" width="12.73" height="8.39" fill="#e5eff9"/>
<rect x="458.97" y="197.31" width="12.73" height="8.39" fill="#e5eff9"/>
<rect x="471.90" y="197.31" width="12.73" height="8.39" fill="#f3f8fe"/>
<rect x="484.83" y="197.31" width="12.73" height="8.39" fill="#f2f7fd"/>
<rect x="497.76" y="197.31" width="12.73" height="8.39" fill="#e7f1fa"/>
<rect x="510.69" y="197.31" width="12.73" height="8.39" fill="#f3f8fe"/>
<rect x="523.62" y="197.31" width="12.73" height="8.39" fill="#eef5fc"/>
<rect x="536.55" y="197.31" width="12.73" height="8.39" fill="#f5fafe"/>
<rect x="549.48" y="197.31" width="12.73" height="8.39" fill="#f3f8fe"/>
<rect x="562.41" y="197.31" width="12.73" height="8.39" fill="#eef5fc"/>
<rect x="575.34" y="197.31" width="12.73" height="8.39" fill="#eaf2fb"/>
<rect x="407.25" y="205.89" width="12.73" height="8.39" fill="#e7f1fa"/>
<rect x="420.18" y="205.89" width="12.73" height="8.39" fill="#f5fafe"/>
<rect x="433.11" y="205.89" width="12.73" height="8.39" fill="#a6cee4"/>
<rect x="446.04" y="205.89" width="12.73" height="8.39" fill="#f2f7fd"/>
<rect x="458.97" y="205.89" width="12.73" height="8.39" fill="#f3f8fe"/>
<rect x="471.90" y="205.89" width="12.73" height="8.39" fill="#ebf3fb"/>
<rect x="484.83" y="205.89" width="12.73" height="8.39" fill="#f2f7fd"/>
<rect x="497.76" y="205.89" width="12.73" height="8.39" fill="#eef5fc"/>
<rect x="510.69" y="205.89" width="12.73" height="8.39" fill="#f2f7fd"/>
<rect x="523.62" y="205.89" width="12.73" height="8.39" fill="#ebf3fb"/>
<rect x="536.55" y="205.89" width="12.73" height="8.39" fill="#d9e8f5"/>
<rect x="549.48" y="205.89" width="12.73" height="8.39" fill="#f2f7fd"/>
<rect x="562.41" y="205.89" width="12.73" height="8.39" fill="#f5fafe"/>
<rect x="575.34" y="205.89" width="12.73" height="8.39" fill="#f3f8fe"/>
<rect x="407.25" y="214.48" width="12.73" height="8.39" fill="#eef5fc"/>
<rect x="420.18" y="214.48" width="12.73" height="8.39" fill="#f5fafe"/>
<rect x="433.11" y="214.48" width="12.73" height="8.39" fill="#d0e1f2"/>
<rect x="446.04" y="214.48" width="12.73" height="8.39" fill="#f2f7fd"/>
<rect x="458.97" y="214.48" width="12.73" height="8.39" fill="#eff6fc"/>
<rect x="471.90" y="214.48" width="12.73" height="8.39" fill="#f5fafe"/>
<rect x="484.83" y="214.48" width="12.73" height="8.39" fill="#eaf2fb"/>
<rect x="497.76" y="214.48" width="12.73" height="8.39" fill="#e7f1fa"/>
<rect x="510.69" y="214.48" width="12.73" height="8.39" fill="#eaf2fb"/>
<rect x="523.62" y="214.48" width="12.73" height="8.39" fill="#e3eef9"/>
<rect x="536.55" y="214.48" width="12.73" height="8.39" fill="#ebf3fb"/>
<rect x="549.48" y="214.48" width="12.73" height="8.39" fill="#f2f7fd"/>
<rect x="562.41" y="214.48" width="12.73" height="8.39" fill="#f2f7fd"/>
<rect x="575.34" y="214.48" width="12.73" height="8.39" fill="#f2f7fd"/>
<rect x="407.25" y="223.06" width="12.73" height="8.39" fill="#4a98c9"/>
<rect x="420.18" y="223.06" width="12.73" height="8.39" fill="#eaf2fb"/>
<rect x="433.11" y="223.06" width="12.73" height="8.39" fill="#eef5fc"/>
<rect x="446.04" y="223.06" width="12.73" height="8.39" fill="#eef5fc"/>
<rect x="458.97" y="223.06" width="12.73" height="8.39" fill="#f5fafe"/>
<rect x="471.90" y="223.06" width="12.73" height="8.39" fill="#d8e7f5"/>
<rect x="484.83" y="223.06" width="12.73" height="8.39" fill="#f5fafe"/>
<rect x="497.76" y="223.06" width="12.73" height="8.39" fill="#f5fafe"/>
<rect x="510.69" y="223.06" width="12.73" height="8.39" fill="#d8e7f5"/>
<rect x="523.62" y="223.06" width="12.73" height="8.39" fill="#eff6fc"/>
<rect x="536.55" y="223.06" width="12.73" height="8.39" fill="#e5eff9"/>
<rect x="549.48" y="223.06" width="12.73" height="8.39" fill="#f2f7fd"/>
<rect x="562.41" y="223.06" width="12.73" height="8.39" fill="#eff6fc"/>
<rect x="575.34" y="223.06" width="12.73" height="8.39" fill="#d9e8f5"/>
<rect x="407.25" y="231.65" width="12.73" height="8.39" fill="#f5fafe"/>
<rect x="420.18" y="231.65" width="12.73" height="8.39" fill="#d3e4f3"/>
<rect x="433.11" y="231.65" width="12.73" height="8.39" fill="#a3cce3"/>
<rect x="446.04" y="231.65" width="12.73" height="8.39" fill="#dfecf7"/>
<rect x="458.97" y="231.65" width="12.73" height="8.39" fill="#d8e7f5"/>
<rect x="471.90" y="231.65" width="12.73" height="8.39" fill="#f5fafe"/>
<rect x="484.83" y="231.65" width="12.73" height="8.39" fill="#d9e8f5"/>
<rect x="497.76" y="231.65" width="12.73" height="8.39" fill="#f5fafe"/>
<rect x="510.69" y="231.65" width="12.73" height="8.39" fill="#d0e1f2"/>
<rect x="523.62" y="231.65" width="12.73" height="8.39" fill="#f5fafe"/>
<rect x="536.55" y="231.65" width="12.73" height="8.39" fill="#f5fafe"/>
<rect x="549.48" y="231.65" width="12.73" height="8.39" fill="#d2e3f3"/>
<rect x="562.41" y="231.65" width="12.73" height="8.39" fill="#c6dbef"/>
<rect x="575.34" y="231.65" width="12.73" height="8.39" fill="#eaf2fb"/>
<rect x="407.25" y="240.23" width="12.73" height="8.39" fill="#f5fafe"/>
<rect x="420.18" y="240.23" width="12.73" height="8.39" fill="#f3f8fe"/>
<rect x="433.11" y="240.23" width="12.73" height="8.39" fill="#f3f8fe"/>
<rect x="446.04" y="240.23" width="12.73" height="8.39" fill="#ebf3fb"/>
<rect x="458.97" y="240.23" width="12.73" height="8.39" fill="#f2f7fd"/>
<rect x="471.90" y="240.23" width="12.73" height="8.39" fill="#ebf3fb"/>
<rect x="484.83" y="240.23" width="12.73" height="8.39" fill="#f5fafe"/>
<rect x="497.76" y="240.23" width="12.73" height="8.39" fill="#dfecf7"/>
<rect x="510.69" y="240.23" width="12.73" height="8.39" fill="#e7f1fa"/>
<rect x="523.62" y="240.23" width="12.73" height="8.39" fill="#d9e8f5"/>
<rect x="536.55" y="240.23" width="12.73" height="8.39" fill="#f5fafe"/>
<rect x="549.48" y="240.23" width="12.73" height="8.39" fill="#eff6fc"/>
<rect x="562.41" y="240.23" width="12.73" height="8.39" fill="#e7f1fa"/>
<rect x="575.34" y="240.23" width="12.73" height="8.39" fill="#f2f7fd"/>
<rect x="407.25" y="248.82" width="12.73" height="8.39" fill="#d6e5f4"/>
<rect x="420.18" y="248.82" width="12.73" height="8.39" fill="#f5fafe"/>
<rect x="433.11" y="248.82" width="12.73" height="8.39" fill="#a3cce3"/>
<rect x="446.04" y="248.82" width="12.73" height="8.39" fill="#ddeaf7"/>
<rect x="458.97" y="248.82" width="12.73" height="8.39" fill="#d0e1f2"/>
<rect x="471.90" y="248.82" width="12.73" height="8.39" fill="#dfecf7"/>
<rect x="484.83" y="248.82" width="12.73" height="8.39" fill="#eff6fc"/>
<rect x="497.76" y="248.82" width="12.73" height="8.39" fill="#eaf2fb"/>
<rect x="510.69" y="248.82" width="12.73" height="8.39" fill="#eff6fc"/>
<rect x="523.62" y="248.82" width="12.73" height="8.39" fill="#f3f8fe"/>
<rect x="536.55" y="248.82" width="12.73" height="8.39" fill="#f5fafe"/>
<rect x="549.48" y="248.82" width="12.73" height="8.39" fill="#ddeaf7"/>
<rect x="562.41" y="248.82" width="12.73" height="8.39" fill="#f3f8fe"/>
<rect x="575.34" y="248.82" width="12.73" height="8.39" fill="#f2f7fd"/>
<rect x="407.25" y="257.40" width="12.73" height="8.39" fill="#ebf3fb"/>
<rect x="420.18" y="257.40" width="12.73" height="8.39" fill="#f3f8fe"/>
<rect x="433.11" y="257.40" width="12.73" height="8.39" fill="#5ba3d0"/>
<rect x="446.04" y="257.40" width="12.73" height="8.39" fill="#a6cee4"/>
<rect x="458.97" y="257.40" width="12.73" height="8.39" fill="#f2f7fd"/>
<rect x="471.90" y="257.40" width="12.73" height="8.39" fill="#f5fafe"/>
<rect x="484.83" y="257.40" width="12.73" height="8.39" fill="#eef5fc"/>
<rect x="497.76" y="257.40" width="12.73" height="8.39" fill="#eff6fc"/>
<rect x="510.69" y="257.40" width="12.73" height="8.39" fill="#f3f8fe"/>
<rect x="523.62" y="257.40" width="12.73" height="8.39" fill="#f3f8fe"/>
<rect x="536.55" y="257.40" width="12.73" height="8.39" fill="#f5fafe"/>
<rect x="549.48" y="257.40" width="12.73" height="8.39" fill="#eaf2fb"/>
<rect x="562.41" y="257.40" width="12.73" height="8.39" fill="#f5fafe"/>
<rect x="575.34" y="257.40" width="12.73" height="8.39" fill="#eff6fc"/>
<rect x="407.25" y="265.99" width="12.73" height="8.39" fill="#eaf2fb"/>
<rect x="420.18" y="265.99" width="12.73" height="8.39" fill="#f2f7fd"/>
<rect x="433.11" y="265.99" width="12.73" height="8.39" fill="#f7fbff"/>
<rect x="446.04" y="265.99" width="12.73" height="8.39" fill="#dce9f6"/>
<rect x="458.97" y="265.99" width="12.73" height="8.39" fill="#eaf2fb"/>
<rect x="471.90" y="265.99" width="12.73" height="8.39" fill="#f5fafe"/>
<rect x="484.83" y="265.99" width="12.73" height="8.39" fill="#f2f7fd"/>
<rect x="497.76" y="265.99" width="12.73" height="8.39" fill="#f2f7fd"/>
<rect x="510.69" y="265.99" width="12.73" height="8.39" fill="#eaf2fb"/>
<rect x="523.62" y="265.99" width="12.73" height="8.39" fill="#f5fafe"/>
<rect x="536.55" y="265.99" width="12.73" height="8.39" fill="#f5fafe"/>
<rect x="549.48" y="265.99" width="12.73" height="8.39" fill="#f2f7fd"/>
<rect x="562.41" y="265.99" width="12.73" height="8.39" fill="#f5fafe"/>
<rect x="575.34" y="265.99" width="12.73" height="8.39" fill="#ddeaf7"/>
<rect x="407.25" y="274.57" width="12.73" height="8.39" fill="#e7f1fa"/>
<rect x="420.18" y="274.57" width="12.73" height="8.39" fill="#f3f8fe"/>
<rect x="433.11" y="274.57" width="12.73" height="8.39" fill="#e5eff9"/>
<rect x="446.04" y="274.57" width="12.73" height="8.39" fill="#0a549e"/>
<rect x="458.97" y="274.57" width="12.73" height="8.39" fill="#08306b"/>
<rect x="471.90" y="274.57" width="12.73" height="8.39" fill="#f5fafe"/>
<rect x="484.83" y="274.57" width="12.73" height="8.39" fill="#ebf3fb"/>
<rect x="497.76" y="274.57" width="12.73" height="8.39" fill="#f5fafe"/>
<rect x="510.69" y="274.57" width="12.73" height="8.39" fill="#f5fafe"/>
<rect x="523.62" y="274.57" width="12.73" height="8.39" fill="#e7f1fa"/>
<rect x="536.55" y="274.57" width="12.73" height="8.39" fill="#f5fafe"/>
<rect x="549.48" y="274.57" width="12.73" height="8.39" fill="#f5fafe"/>
<rect x="562.41" y="274.57" width="12.73" height="8.39" fill="#eff6fc"/>
<rect x="575.34" y="274.57" width="12.73" height="8.39" fill="#f5fafe"/>
<rect x="407.25" y="283.16" width="12.73" height="8.39" fill="#cadef0"/>
<rect x="420.18" y="283.16" width="12.73" height="8.39" fill="#f3f8fe"/>
<rect x="433.11" y="283.16" width="12.73" height="8.39" fill="#2373b6"/>
<rect x="446.04" y="283.16" width="12.73" height="8.39" fill="#e1edf8"/>
<rect x="458.97" y="283.16" width="12.73" height="8.39" fill="#b7d4ea"/>
<rect x="471.90" y="283.16" width="12.73" height="8.39" fill="#eff6fc"/>
<rect x="484.83" y="283.16" width="12.73" height="8.39" fill="#f2f7fd"/>
<rect x="497.76" y="283.16" width="12.73" height="8.39" fill="#f2f7fd"/>
<rect x="510.69" y="283.16" width="12.73" height="8.39" fill="#8cc0dd"/>
<rect x="523.62" y="283.16" width="12.73" height="8.39" fill="#f3f8fe"/>
<rect x="536.55" y="283.16" width="12.73" height="8.39" fill="#f5fafe"/>
<rect x="549.48" y="283.16" width="12.73" height="8.39" fill="#08306b"/>
<rect x="562.41" y="283.16" width="12.73" height="8.39" fill="#08306b"/>
<rect x="575.34" y="283.16" width="12.73" height="8.39" fill="#e3eef9"/>
<rect x="407.25" y="291.74" width="12.73" height="8.39" fill="#eef5fc"/>
<rect x="420.18" y="291.74" width="12.73" height="8.39" fill="#f3f8fe"/>
<rect x="433.11" y="291.74" width="12.73" height="8.39" fill="#eff6fc"/>
<rect x="446.04" y="291.74" width="12.73" height="8.39" fill="#f2f7fd"/>
<rect x="458.97" y="291.74" width="12.73" height="8.39" fill="#f2f7fd"/>
<rect x="471.90" y="291.74" width="12.73" height="8.39" fill="#f3f8fe"/>
<rect x="484.83" y="291.74" width="12.73" height="8.39" fill="#eef5fc"/>
<rect x="497.76" y="291.74" width="12.73" height="8.39" fill="#f5fafe"/>
<rect x="510.69" y="291.74" width="12.73" height="8.39" fill="#e7f1fa"/>
<rect x="523.62" y="291.74" width="12.73" height="8.39" fill="#eff6fc"/>
<rect x="536.55" y="291.74" width="12.73" height="8.39" fill="#f5fafe"/>
<rect x="549.48" y="291.74" width="12.73" height="8.39" fill="#f5fafe"/>
<rect x="562.41" y="291.74" width="12.73" height="8.39" fill="#ebf3fb"/>
<rect x="575.34" y="291.74" width="12.73" height="8.39" fill="#d6e5f4"/>
<rect x="407.25" y="300.33" width="12.73" height="8.39" fill="#a0cbe2"/>
<rect x="420.18" y="300.33" width="12.73" height="8.39" fill="#f3f8fe"/>
<rect x="433.11" y="300.33" width="12.73" height="8.39" fill="#87bddc"/>
<rect x="446.04" y="300.33" width="12.73" height="8.39" fill="#87bddc"/>
<rect x="458.97" y="300.33" width="12.73" height="8.39" fill="#e3eef9"/>
<rect x="471.90" y="300.33" width="12.73" height="8.39" fill="#d8e7f5"/>
<rect x="484.83" y="300.33" width="12.73" height="8.39" fill="#f3f8fe"/>
<rect x="497.76" y="300.33" width="12.73" height="8.39" fill="#f2f7fd"/>
<rect x="510.69" y="300.33" width="12.73" height="8.39" fill="#ddeaf7"/>
<rect x="523.62" y="300.33" width="12.73" height="8.39" fill="#dce9f6"/>
<rect x="536.55" y="300.33" width="12.73" height="8.39" fill="#f5fafe"/>
<rect x="549.48" y="300.33" width="12.73" height="8.39" fill="#08306b"/>
<rect x="562.41" y="300.33" width="12.73" height="8.39" fill="#08306b"/>
<rect x="575.34" y="300.33" width="12.73" height="8.39" fill="#08306b"/>
<rect x="407.25" y="308.91" width="12.73" height="8.39" fill="#e3eef9"/>
<rect x="420.18" y="308.91" width="12.73" height="8.39" fill="#08306b"/>
<rect x="433.11" y="308.91" width="12.73" height="8.39" fill="#f2f7fd"/>
<rect x="446.04" y="308.91" width="12.73" height="8.39" fill="#dce9f6"/>
<rect x="458.97" y="308.91" width="12.73" height="8.39" fill="#f3f8fe"/>
<rect x="471.90" y="308.91" width="12.73" height="8.39" fill="#f3f8fe"/>
<rect x="484.83" y="308.91" width="12.73" height="8.39" fill="#f2f7fd"/>
<rect x="497.76" y="308.91" width="12.73" height="8.39" fill="#e3eef9"/>
<rect x="510.69" y="308.91" width="12.73" height="8.39" fill="#f2f7fd"/>
<rect x="523.62" y="308.91" width="12.73" height="8.39" fill="#f2f7fd"/>
<rect x="536.55" y="308.91" width="12.73" height="8.39" fill="#ebf3fb"/>
<rect x="549.48" y="308.91" width="12.73" height="8.39" fill="#eaf2fb"/>
<rect x="562.41" y="308.91" width="12.73" height="8.39" fill="#f3f8fe"/>
<rect x="575.34" y="308.91" width="12.73" height="8.39" fill="#f2f7fd"/>
<rect x="407.25" y="317.50" width="12.73" height="8.39" fill="#6aaed6"/>
<rect x="420.18" y="317.50" width="12.73" height="8.39" fill="#eaf2fb"/>
<rect x="433.11" y="317.50" width="12.73" height="8.39" fill="#ebf3fb"/>
<rect x="446.04" y="317.50" width="12.73" height="8.39" fill="#d8e7f5"/>
<rect x="458.97" y="317.50" width="12.73" height="8.39" fill="#8cc0dd"/>
<rect x="471.90" y="317.50" width="12.73" height="8.39" fill="#f2f7fd"/>
<rect x="484.83" y="317.50" width="12.73" height="8.39" fill="#bfd8ed"/>
<rect x="497.76" y="317.50" width="12.73" height="8.39" fill="#f3f8fe"/>
<rect x="510.69" y="317.50" width="12.73" height="8.39" fill="#d8e7f5"/>
<rect x="523.62" y="317.50" width="12.73" height="8.39" fill="#f3f8fe"/>
<rect x="536.55" y="317.50" width="12.73" height="8.39" fill="#add0e6"/>
<rect x="549.48" y="317.50" width="12.73" height="8.39" fill="#eef5fc"/>
<rect x="562.41" y="317.50" width="12.73" height="8.39" fill="#d9e8f5"/>
<rect x="575.34" y="317.50" width="12.73" height="8.39" fill="#f2f7fd"/>
<rect x="407.25" y="326.08" width="12.73" height="8.39" fill="#e3eef9"/>
<rect x="420.18" y="326.08" width="12.73" height="8.39" fill="#ebf3fb"/>
<rect x="433.11" y="326.08" width="12.73" height="8.39" fill="#08306b"/>
<rect x="446.04" y="326.08" width="12.73" height="8.39" fill="#f5fafe"/>
<rect x="458.97" y="326.08" width="12.73" height="8.39" fill="#f5fafe"/>
<rect x="471.90" y="326.08" width="12.73" height="8.39" fill="#e3eef9"/>
<rect x="484.83" y="326.08" width="12.73" height="8.39" fill="#eef5fc"/>
<rect x="497.76" y="326.08" width="12.73" height="8.39" fill="#ddeaf7"/>
<rect x="510.69" y="326.08" width="12.73" height="8.39" fill="#f2f7fd"/>
<rect x="523.62" y="326.08" width="12.73" height="8.39" fill="#f2f7fd"/>
<rect x="536.55" y="326.08" width="12.73" height="8.39" fill="#f3f8fe"/>
<rect x="549.48" y="326.08" width="12.73" height="8.39" fill="#dce9f6"/>
<rect x="562.41" y="326.08" width="12.73" height="8.39" fill="#c6dbef"/>
<rect x="575.34" y="326.08" width="12.73" height="8.39" fill="#f3f8fe"/>
</g>
<circle cx="413.61" cy="4.04" r="2.5" fill="#fff"/>
<circle cx="426.54" cy="4.04" r="2.2" fill="#fff"/>
<circle cx="439.47" cy="4.04" r="2.5" fill="#fff"/>
<circle cx="465.33" cy="4.04" r="2.6" fill="#000"/>
<circle cx="478.26" cy="4.04" r="2.1" fill="#fff"/>
<circle cx="491.19" cy="4.04" r="0.4" fill="#000"/>
<circle cx="555.85" cy="4.04" r="2.5" fill="#000"/>
<circle cx="568.77" cy="4.04" r="2.2" fill="#000"/>
<circle cx="581.70" cy="4.04" r="1.6" fill="#000"/>
<circle cx="452.40" cy="12.63" r="1.5" fill="#000"/>
<circle cx="555.85" cy="12.63" r="0.3" fill="#3a3a3a"/>
<circle cx="581.70" cy="12.63" r="1.6" fill="#000"/>
<circle cx="452.40" cy="21.21" r="0.4" fill="#000"/>
<circle cx="465.33" cy="29.80" r="0.3" fill="#3a3a3a"/>
<circle cx="426.54" cy="38.38" r="0.35" fill="#000"/>
<circle cx="465.33" cy="38.38" r="0.5" fill="#000"/>
<circle cx="517.05" cy="38.38" r="0.3" fill="#3a3a3a"/>
<circle cx="555.85" cy="38.38" r="0.3" fill="#3a3a3a"/>
<circle cx="555.85" cy="46.97" r="0.3" fill="#3a3a3a"/>
<circle cx="465.33" cy="55.55" r="0.5" fill="#000"/>
<circle cx="517.05" cy="55.55" r="0.35" fill="#123"/>
<circle cx="555.85" cy="55.55" r="0.8" fill="#000"/>
<circle cx="568.77" cy="55.55" r="0.3" fill="#3a3a3a"/>
<circle cx="491.19" cy="64.14" r="0.6" fill="#000"/>
<circle cx="517.05" cy="64.14" r="1.1" fill="#000"/>
<circle cx="439.47" cy="72.72" r="0.35" fill="#9bc"/>
<circle cx="452.40" cy="72.72" r="1.5" fill="#fff"/>
<circle cx="465.33" cy="72.72" r="0.4" fill="#9bc"/>
<circle cx="478.26" cy="72.72" r="0.3" fill="#3a3a3a"/>
<circle cx="491.19" cy="72.72" r="0.3" fill="#3a3a3a"/>
<circle cx="517.05" cy="72.72" r="0.4" fill="#3a3a3a"/>
<circle cx="542.91" cy="72.72" r="0.35" fill="#4a6ea8"/>
<circle cx="555.85" cy="72.72" r="1.0" fill="#fff"/>
<circle cx="568.77" cy="72.72" r="1.0" fill="#fff"/>
<circle cx="581.70" cy="72.72" r="0.8" fill="#000"/>
<circle cx="426.54" cy="81.31" r="1.1" fill="#000"/>
<circle cx="439.47" cy="81.31" r="1.5" fill="#fff"/>
<circle cx="517.05" cy="81.31" r="0.3" fill="#3a3a3a"/>
<circle cx="413.61" cy="89.89" r="0.3" fill="#3a3a3a"/>
<circle cx="426.54" cy="89.89" r="0.3" fill="#3a3a3a"/>
<circle cx="439.47" cy="89.89" r="0.5" fill="#000"/>
<circle cx="452.40" cy="89.89" r="0.5" fill="#000"/>
<circle cx="517.05" cy="89.89" r="0.3" fill="#3a3a3a"/>
<circle cx="581.70" cy="89.89" r="0.3" fill="#3a3a3a"/>
<circle cx="426.54" cy="98.48" r="0.35" fill="#000"/>
<circle cx="439.47" cy="98.48" r="2.5" fill="#fff"/>
<circle cx="452.40" cy="98.48" r="2.5" fill="#fff"/>
<circle cx="465.33" cy="98.48" r="2.5" fill="#fff"/>
<circle cx="478.26" cy="98.48" r="1.5" fill="#000"/>
<circle cx="517.05" cy="98.48" r="1.3" fill="#fff"/>
<circle cx="529.99" cy="98.48" r="0.4" fill="#9bc"/>
<circle cx="542.91" cy="98.48" r="0.4" fill="#9bc"/>
<circle cx="555.85" cy="98.48" r="2.0" fill="#000"/>
<circle cx="568.77" cy="98.48" r="1.3" fill="#000"/>
<circle cx="413.61" cy="107.06" r="1.4" fill="#000"/>
<circle cx="426.54" cy="107.06" r="0.5" fill="#000"/>
<circle cx="478.26" cy="107.06" r="0.9" fill="#000"/>
<circle cx="491.19" cy="107.06" r="0.4" fill="#000"/>
<circle cx="413.61" cy="115.65" r="0.3" fill="#3a3a3a"/>
<circle cx="426.54" cy="115.65" r="0.5" fill="#000"/>
<circle cx="439.47" cy="124.23" r="0.35" fill="#000"/>
<circle cx="491.19" cy="124.23" r="0.6" fill="#000"/>
<circle cx="581.70" cy="124.23" r="0.3" fill="#3a3a3a"/>
<circle cx="413.61" cy="132.82" r="0.4" fill="#3a3a3a"/>
<circle cx="426.54" cy="132.82" r="1.7" fill="#000"/>
<circle cx="452.40" cy="132.82" r="1.6" fill="#fff"/>
<circle cx="478.26" cy="132.82" r="0.3" fill="#3a3a3a"/>
<circle cx="517.05" cy="132.82" r="0.35" fill="#3a3a3a"/>
<circle cx="555.85" cy="132.82" r="0.3" fill="#3a3a3a"/>
<circle cx="413.61" cy="141.40" r="1.4" fill="#000"/>
<circle cx="517.05" cy="141.40" r="1.0" fill="#000"/>
<circle cx="581.70" cy="141.40" r="0.3" fill="#3a3a3a"/>
<circle cx="517.05" cy="149.99" r="0.35" fill="#3a3a3a"/>
<circle cx="452.40" cy="158.57" r="0.7" fill="#000"/>
<circle cx="581.70" cy="158.57" r="0.3" fill="#3a3a3a"/>
<circle cx="413.61" cy="175.74" r="0.35" fill="#3a3a3a"/>
<circle cx="426.54" cy="175.74" r="0.6" fill="#000"/>
<circle cx="439.47" cy="175.74" r="0.35" fill="#3a3a3a"/>
<circle cx="452.40" cy="175.74" r="1.4" fill="#fff"/>
<circle cx="465.33" cy="175.74" r="2.0" fill="#fff"/>
<circle cx="517.05" cy="184.33" r="0.3" fill="#3a3a3a"/>
<circle cx="581.70" cy="184.33" r="0.3" fill="#3a3a3a"/>
<circle cx="439.47" cy="201.50" r="0.4" fill="#000"/>
<circle cx="568.77" cy="201.50" r="0.3" fill="#3a3a3a"/>
<circle cx="413.61" cy="210.08" r="0.5" fill="#000"/>
<circle cx="439.47" cy="210.08" r="1.4" fill="#000"/>
<circle cx="452.40" cy="210.08" r="0.4" fill="#000"/>
<circle cx="465.33" cy="210.08" r="0.45" fill="#000"/>
<circle cx="478.26" cy="210.08" r="0.4" fill="#000"/>
<circle cx="555.85" cy="210.08" r="0.3" fill="#3a3a3a"/>
<circle cx="426.54" cy="218.67" r="0.35" fill="#3a3a3a"/>
<circle cx="439.47" cy="218.67" r="0.35" fill="#3a3a3a"/>
<circle cx="413.61" cy="227.25" r="1.4" fill="#000"/>
<circle cx="452.40" cy="227.25" r="0.45" fill="#000"/>
<circle cx="478.26" cy="227.25" r="0.6" fill="#000"/>
<circle cx="517.05" cy="227.25" r="0.35" fill="#3a3a3a"/>
<circle cx="426.54" cy="235.84" r="0.4" fill="#3a3a3a"/>
<circle cx="452.40" cy="235.84" r="0.35" fill="#3a3a3a"/>
<circle cx="491.19" cy="235.84" r="0.35" fill="#3a3a3a"/>
<circle cx="555.85" cy="235.84" r="0.3" fill="#3a3a3a"/>
<circle cx="568.77" cy="235.84" r="0.3" fill="#3a3a3a"/>
<circle cx="452.40" cy="244.42" r="0.45" fill="#000"/>
<circle cx="478.26" cy="244.42" r="0.45" fill="#000"/>
<circle cx="413.61" cy="261.59" r="0.45" fill="#000"/>
<circle cx="439.47" cy="261.59" r="0.5" fill="#000"/>
<circle cx="452.40" cy="261.59" r="1.2" fill="#000"/>
<circle cx="465.33" cy="261.59" r="0.4" fill="#000"/>
<circle cx="555.85" cy="261.59" r="0.3" fill="#3a3a3a"/>
<circle cx="581.70" cy="261.59" r="0.3" fill="#3a3a3a"/>
<circle cx="413.61" cy="270.18" r="0.5" fill="#000"/>
<circle cx="426.54" cy="270.18" r="0.4" fill="#000"/>
<circle cx="452.40" cy="270.18" r="0.45" fill="#000"/>
<circle cx="465.33" cy="270.18" r="0.5" fill="#000"/>
<circle cx="517.05" cy="270.18" r="0.3" fill="#3a3a3a"/>
<circle cx="581.70" cy="270.18" r="0.3" fill="#3a3a3a"/>
<circle cx="413.61" cy="278.76" r="0.35" fill="#3a3a3a"/>
<circle cx="452.40" cy="278.76" r="1.9" fill="#fff"/>
<circle cx="465.33" cy="278.76" r="1.9" fill="#fff"/>
<circle cx="452.40" cy="287.35" r="0.5" fill="#000"/>
<circle cx="465.33" cy="287.35" r="0.7" fill="#000"/>
<circle cx="555.85" cy="287.35" r="1.25" fill="#fff"/>
<circle cx="568.77" cy="287.35" r="1.3" fill="#fff"/>
<circle cx="439.47" cy="304.52" r="1.3" fill="#000"/>
<circle cx="555.85" cy="304.52" r="1.4" fill="#fff"/>
<circle cx="568.77" cy="304.52" r="1.25" fill="#fff"/>
<circle cx="581.70" cy="304.52" r="1.65" fill="#fff"/>
<circle cx="413.61" cy="313.10" r="0.35" fill="#3a3a3a"/>
<circle cx="491.19" cy="313.10" r="0.3" fill="#3a3a3a"/>
<circle cx="517.05" cy="321.69" r="0.5" fill="#000"/>
<circle cx="568.77" cy="321.69" r="0.3" fill="#3a3a3a"/>
<circle cx="478.26" cy="330.27" r="0.35" fill="#3a3a3a"/>
<circle cx="555.85" cy="330.27" r="0.3" fill="#3a3a3a"/>
<circle cx="568.77" cy="330.27" r="0.35" fill="#3a3a3a"/>
<line x1="588.17" x2="590.67" y1="4.04" y2="4.04" stroke="#222" stroke-width="0.6"/>
<text x="591.7" y="8.04" font-size="10.45" font-style="italic" textLength="20.40" lengthAdjust="spacingAndGlyphs" fill="#000" stroke="#000">SCD</text>
<line x1="588.17" x2="590.67" y1="12.63" y2="12.63" stroke="#222" stroke-width="0.6"/>
<text x="591.7" y="16.63" font-size="10.45" font-style="italic" textLength="31.73" lengthAdjust="spacingAndGlyphs" fill="#000" stroke="#000">ACSS2</text>
<line x1="588.17" x2="590.67" y1="21.21" y2="21.21" stroke="#222" stroke-width="0.6"/>
<text x="591.7" y="25.21" font-size="10.45" font-style="italic" textLength="27.89" lengthAdjust="spacingAndGlyphs" fill="#000" stroke="#000">GPAM</text>
<line x1="588.17" x2="590.67" y1="29.80" y2="29.80" stroke="#222" stroke-width="0.6"/>
<text x="591.7" y="33.80" font-size="10.45" font-style="italic" font-weight="bold" style="stroke-width:0.45px" textLength="35.96" lengthAdjust="spacingAndGlyphs" fill="#000" stroke="#000">DGAT2</text>
<line x1="588.17" x2="590.67" y1="38.38" y2="38.38" stroke="#222" stroke-width="0.6"/>
<text x="591.7" y="42.38" font-size="10.45" font-style="italic" textLength="23.81" lengthAdjust="spacingAndGlyphs" fill="#000" stroke="#000">ACLY</text>
<line x1="588.17" x2="590.67" y1="46.97" y2="46.97" stroke="#222" stroke-width="0.6"/>
<text x="591.7" y="50.97" font-size="10.45" font-style="italic" textLength="27.01" lengthAdjust="spacingAndGlyphs" fill="#000" stroke="#000">GPD1</text>
<line x1="588.17" x2="590.67" y1="55.55" y2="55.55" stroke="#222" stroke-width="0.6"/>
<text x="591.7" y="59.55" font-size="10.45" font-style="italic" textLength="22.47" lengthAdjust="spacingAndGlyphs" fill="#000" stroke="#000">MVD</text>
<line x1="588.17" x2="590.67" y1="64.14" y2="64.14" stroke="#222" stroke-width="0.6"/>
<text x="591.7" y="68.14" font-size="10.45" font-style="italic" textLength="25.06" lengthAdjust="spacingAndGlyphs" fill="#000" stroke="#000">FASN</text>
<line x1="588.17" x2="590.67" y1="72.72" y2="72.72" stroke="#222" stroke-width="0.6"/>
<text x="591.7" y="76.72" font-size="10.45" font-style="italic" textLength="16.66" lengthAdjust="spacingAndGlyphs" fill="#000" stroke="#000">LPL</text>
<line x1="588.17" x2="590.67" y1="81.31" y2="81.31" stroke="#222" stroke-width="0.6"/>
<text x="591.7" y="85.31" font-size="10.45" font-style="italic" textLength="31.32" lengthAdjust="spacingAndGlyphs" fill="#000" stroke="#000">ACSL1</text>
<line x1="588.17" x2="590.67" y1="89.89" y2="89.89" stroke="#222" stroke-width="0.6"/>
<text x="591.7" y="93.89" font-size="10.45" font-style="italic" textLength="17.37" lengthAdjust="spacingAndGlyphs" fill="#000" stroke="#000">LSS</text>
<line x1="588.17" x2="590.67" y1="98.48" y2="98.48" stroke="#222" stroke-width="0.6"/>
<text x="591.7" y="102.48" font-size="10.45" font-style="italic" textLength="31.44" lengthAdjust="spacingAndGlyphs" fill="#000" stroke="#000">FADS2</text>
<line x1="588.17" x2="590.67" y1="107.06" y2="107.06" stroke="#222" stroke-width="0.6"/>
<text x="591.7" y="111.06" font-size="10.45" font-style="italic" textLength="37.55" lengthAdjust="spacingAndGlyphs" fill="#000" stroke="#000">AGPAT2</text>
<line x1="588.17" x2="590.67" y1="115.65" y2="115.65" stroke="#222" stroke-width="0.6"/>
<text x="591.7" y="119.65" font-size="10.45" font-style="italic" font-weight="bold" style="stroke-width:0.45px" textLength="36.16" lengthAdjust="spacingAndGlyphs" fill="#000" stroke="#000">ACACA</text>
<line x1="588.17" x2="590.67" y1="124.23" y2="124.23" stroke="#222" stroke-width="0.6"/>
<text x="591.7" y="128.23" font-size="10.45" font-style="italic" textLength="20.67" lengthAdjust="spacingAndGlyphs" fill="#000" stroke="#000">ME1</text>
<line x1="588.17" x2="590.67" y1="132.82" y2="132.82" stroke="#222" stroke-width="0.6"/>
<text x="591.7" y="136.82" font-size="10.45" font-style="italic" textLength="37.08" lengthAdjust="spacingAndGlyphs" fill="#000" stroke="#000">ELOVL5</text>
<line x1="588.17" x2="590.67" y1="141.40" y2="141.40" stroke="#222" stroke-width="0.6"/>
<text x="591.7" y="145.40" font-size="10.45" font-style="italic" textLength="52.26" lengthAdjust="spacingAndGlyphs" fill="#000" stroke="#000">HSD17B12</text>
<line x1="588.17" x2="590.67" y1="149.99" y2="149.99" stroke="#222" stroke-width="0.6"/>
<text x="591.7" y="153.99" font-size="10.45" font-style="italic" textLength="43.48" lengthAdjust="spacingAndGlyphs" fill="#000" stroke="#000">SLC7A10</text>
<line x1="588.17" x2="590.67" y1="158.57" y2="158.57" stroke="#222" stroke-width="0.6"/>
<text x="591.7" y="162.57" font-size="10.45" font-style="italic" textLength="26.02" lengthAdjust="spacingAndGlyphs" fill="#000" stroke="#000">G0S2</text>
<line x1="588.17" x2="590.67" y1="167.16" y2="167.16" stroke="#222" stroke-width="0.6"/>
<text x="591.7" y="171.16" font-size="10.45" font-style="italic" textLength="37.43" lengthAdjust="spacingAndGlyphs" fill="#000" stroke="#000">SREBF1</text>
<line x1="588.17" x2="590.67" y1="175.74" y2="175.74" stroke="#222" stroke-width="0.6"/>
<text x="591.7" y="179.74" font-size="10.45" font-style="italic" textLength="26.59" lengthAdjust="spacingAndGlyphs" fill="#000" stroke="#000">CD36</text>
<line x1="588.17" x2="590.67" y1="184.33" y2="184.33" stroke="#222" stroke-width="0.6"/>
<text x="591.7" y="188.33" font-size="10.45" font-style="italic" textLength="12.62" lengthAdjust="spacingAndGlyphs" fill="#000" stroke="#000">PC</text>
<line x1="588.17" x2="590.67" y1="192.91" y2="192.91" stroke="#222" stroke-width="0.6"/>
<text x="591.7" y="196.91" font-size="10.45" font-style="italic" textLength="37.08" lengthAdjust="spacingAndGlyphs" fill="#000" stroke="#000">ELOVL3</text>
<line x1="588.17" x2="590.67" y1="201.50" y2="201.50" stroke="#222" stroke-width="0.6"/>
<text x="591.7" y="205.50" font-size="10.45" font-style="italic" textLength="27.54" lengthAdjust="spacingAndGlyphs" fill="#000" stroke="#000">LPIN1</text>
<line x1="588.17" x2="590.67" y1="210.08" y2="210.08" stroke="#222" stroke-width="0.6"/>
<text x="591.7" y="214.08" font-size="10.45" font-style="italic" textLength="32.16" lengthAdjust="spacingAndGlyphs" fill="#000" stroke="#000">CYB5A</text>
<line x1="588.17" x2="590.67" y1="218.67" y2="218.67" stroke="#222" stroke-width="0.6"/>
<text x="591.7" y="222.67" font-size="10.45" font-style="italic" textLength="37.08" lengthAdjust="spacingAndGlyphs" fill="#000" stroke="#000">ELOVL6</text>
<line x1="588.17" x2="590.67" y1="227.25" y2="227.25" stroke="#222" stroke-width="0.6"/>
<text x="591.7" y="231.25" font-size="10.45" font-style="italic" textLength="25.87" lengthAdjust="spacingAndGlyphs" fill="#000" stroke="#000">FZD4</text>
<line x1="588.17" x2="590.67" y1="235.84" y2="235.84" stroke="#222" stroke-width="0.6"/>
<text x="591.7" y="239.84" font-size="10.45" font-style="italic" textLength="33.47" lengthAdjust="spacingAndGlyphs" fill="#000" stroke="#000">ACACB</text>
<line x1="588.17" x2="590.67" y1="244.42" y2="244.42" stroke="#222" stroke-width="0.6"/>
<text x="591.7" y="248.42" font-size="10.45" font-style="italic" textLength="26.47" lengthAdjust="spacingAndGlyphs" fill="#000" stroke="#000">GBE1</text>
<line x1="588.17" x2="590.67" y1="253.01" y2="253.01" stroke="#222" stroke-width="0.6"/>
<text x="591.7" y="257.01" font-size="10.45" font-style="italic" textLength="42.46" lengthAdjust="spacingAndGlyphs" fill="#000" stroke="#000">HMGCS1</text>
<line x1="588.17" x2="590.67" y1="261.59" y2="261.59" stroke="#222" stroke-width="0.6"/>
<text x="591.7" y="265.59" font-size="10.45" font-style="italic" textLength="27.22" lengthAdjust="spacingAndGlyphs" fill="#000" stroke="#000">ACO1</text>
<line x1="588.17" x2="590.67" y1="270.18" y2="270.18" stroke="#222" stroke-width="0.6"/>
<text x="591.7" y="274.18" font-size="10.45" font-style="italic" textLength="43.48" lengthAdjust="spacingAndGlyphs" fill="#000" stroke="#000">SLC25A1</text>
<line x1="588.17" x2="590.67" y1="278.76" y2="278.76" stroke="#222" stroke-width="0.6"/>
<text x="591.7" y="282.76" font-size="10.45" font-style="italic" textLength="36.05" lengthAdjust="spacingAndGlyphs" fill="#000" stroke="#000">LPCAT3</text>
<line x1="588.17" x2="590.67" y1="287.35" y2="287.35" stroke="#222" stroke-width="0.6"/>
<text x="591.7" y="291.35" font-size="10.45" font-style="italic" textLength="36.69" lengthAdjust="spacingAndGlyphs" fill="#000" stroke="#000">HMGCR</text>
<line x1="588.17" x2="590.67" y1="295.93" y2="295.93" stroke="#222" stroke-width="0.6"/>
<text x="591.7" y="299.93" font-size="10.45" font-style="italic" textLength="30.65" lengthAdjust="spacingAndGlyphs" fill="#000" stroke="#000">PCYT2</text>
<line x1="588.17" x2="590.67" y1="304.52" y2="304.52" stroke="#222" stroke-width="0.6"/>
<text x="591.7" y="308.52" font-size="10.45" font-style="italic" textLength="25.02" lengthAdjust="spacingAndGlyphs" fill="#000" stroke="#000">LDLR</text>
<line x1="588.17" x2="590.67" y1="313.10" y2="313.10" stroke="#222" stroke-width="0.6"/>
<text x="591.7" y="317.10" font-size="10.45" font-style="italic" textLength="19.36" lengthAdjust="spacingAndGlyphs" fill="#000" stroke="#000">IDI1</text>
<line x1="588.17" x2="590.67" y1="321.69" y2="321.69" stroke="#222" stroke-width="0.6"/>
<text x="591.7" y="325.69" font-size="10.45" font-style="italic" textLength="33.63" lengthAdjust="spacingAndGlyphs" fill="#000" stroke="#000">NR1H3</text>
<line x1="588.17" x2="590.67" y1="330.27" y2="330.27" stroke="#222" stroke-width="0.6"/>
<text x="591.7" y="334.27" font-size="10.45" font-style="italic" textLength="24.56" lengthAdjust="spacingAndGlyphs" fill="#000" stroke="#000">FAR2</text>
<line x1="413.61" x2="413.61" y1="334.57" y2="337.07" stroke="#222" stroke-width="0.6"/>
<text transform="translate(411.61,345.2) rotate(-45)" font-size="10.2" text-anchor="end" textLength="96.65" lengthAdjust="spacingAndGlyphs" fill="#000" stroke="#000">Ankle spacing width</text>
<line x1="426.54" x2="426.54" y1="334.57" y2="337.07" stroke="#222" stroke-width="0.6"/>
<text transform="translate(424.54,345.2) rotate(-45)" font-size="10.2" text-anchor="end" textLength="101.44" lengthAdjust="spacingAndGlyphs" fill="#000" stroke="#000">Basophill percentage</text>
<line x1="439.47" x2="439.47" y1="334.57" y2="337.07" stroke="#222" stroke-width="0.6"/>
<text transform="translate(437.47,345.2) rotate(-45)" font-size="10.2" text-anchor="end" textLength="104.69" lengthAdjust="spacingAndGlyphs" fill="#000" stroke="#000">Mean platelet volume</text>
<line x1="452.40" x2="452.40" y1="334.57" y2="337.07" stroke="#222" stroke-width="0.6"/>
<text transform="translate(450.40,345.2) rotate(-45)" font-size="10.2" text-anchor="end" textLength="124.69" lengthAdjust="spacingAndGlyphs" fill="#000" stroke="#000">Mean reticulocyte volume</text>
<line x1="465.33" x2="465.33" y1="334.57" y2="337.07" stroke="#222" stroke-width="0.6"/>
<text transform="translate(463.33,345.2) rotate(-45)" font-size="10.2" text-anchor="end" textLength="143.36" lengthAdjust="spacingAndGlyphs" fill="#000" stroke="#000">Erythrocyte distribution width</text>
<line x1="478.26" x2="478.26" y1="334.57" y2="337.07" stroke="#222" stroke-width="0.6"/>
<text transform="translate(476.26,345.2) rotate(-45)" font-size="10.2" text-anchor="end" textLength="97.44" lengthAdjust="spacingAndGlyphs" fill="#000" stroke="#000">Ease of skin tanning</text>
<line x1="491.19" x2="491.19" y1="334.57" y2="337.07" stroke="#222" stroke-width="0.6"/>
<text transform="translate(489.19,345.2) rotate(-45)" font-size="10.2" text-anchor="end" textLength="140.69" lengthAdjust="spacingAndGlyphs" fill="#000" stroke="#000">Childhood sunburn occasions</text>
<line x1="504.12" x2="504.12" y1="334.57" y2="337.07" stroke="#222" stroke-width="0.6"/>
<text transform="translate(502.12,345.2) rotate(-45)" font-size="10.2" text-anchor="end" textLength="68.40" lengthAdjust="spacingAndGlyphs" fill="#000" stroke="#000">Hair color: red</text>
<line x1="517.05" x2="517.05" y1="334.57" y2="337.07" stroke="#222" stroke-width="0.6"/>
<text transform="translate(515.05,345.2) rotate(-45)" font-size="10.2" font-weight="bold" style="stroke-width:0.45px" text-anchor="end" textLength="55.16" lengthAdjust="spacingAndGlyphs" fill="#000" stroke="#000">Pulse rate</text>
<line x1="529.99" x2="529.99" y1="334.57" y2="337.07" stroke="#222" stroke-width="0.6"/>
<text transform="translate(527.99,345.2) rotate(-45)" font-size="10.2" font-weight="bold" style="stroke-width:0.45px" text-anchor="end" textLength="78.66" lengthAdjust="spacingAndGlyphs" fill="#000" stroke="#000">CH2DB (lipids)</text>
<line x1="542.91" x2="542.91" y1="334.57" y2="337.07" stroke="#222" stroke-width="0.6"/>
<text transform="translate(540.91,345.2) rotate(-45)" font-size="10.2" font-weight="bold" style="stroke-width:0.45px" text-anchor="end" textLength="87.36" lengthAdjust="spacingAndGlyphs" fill="#000" stroke="#000">HDL Cholesterol</text>
<line x1="555.85" x2="555.85" y1="334.57" y2="337.07" stroke="#222" stroke-width="0.6"/>
<text transform="translate(553.85,345.2) rotate(-45)" font-size="10.2" font-weight="bold" style="stroke-width:0.45px" text-anchor="end" textLength="89.56" lengthAdjust="spacingAndGlyphs" fill="#000" stroke="#000">High-cholesterol</text>
<line x1="568.77" x2="568.77" y1="334.57" y2="337.07" stroke="#222" stroke-width="0.6"/>
<text transform="translate(566.77,345.2) rotate(-45)" font-size="10.2" font-weight="bold" style="stroke-width:0.45px" text-anchor="end" textLength="125.47" lengthAdjust="spacingAndGlyphs" fill="#000" stroke="#000">Cholesterol medication</text>
<line x1="581.70" x2="581.70" y1="334.57" y2="337.07" stroke="#222" stroke-width="0.6"/>
<text transform="translate(579.70,345.2) rotate(-45)" font-size="10.2" font-weight="bold" style="stroke-width:0.45px" text-anchor="end" textLength="120.47" lengthAdjust="spacingAndGlyphs" fill="#000" stroke="#000">Heart disease (father)</text>
<defs><linearGradient id="cb" x1="0" y1="1" x2="0" y2="0">
<stop offset="0.00" stop-color="#f7fbff"/>
<stop offset="0.05" stop-color="#eef5fc"/>
<stop offset="0.10" stop-color="#e3eef9"/>
<stop offset="0.15" stop-color="#d9e8f5"/>
<stop offset="0.20" stop-color="#d0e1f2"/>
<stop offset="0.25" stop-color="#c6dbef"/>
<stop offset="0.30" stop-color="#b7d4ea"/>
<stop offset="0.35" stop-color="#a6cee4"/>
<stop offset="0.40" stop-color="#94c4df"/>
<stop offset="0.45" stop-color="#7fb9da"/>
<stop offset="0.50" stop-color="#6aaed6"/>
<stop offset="0.55" stop-color="#5ba3d0"/>
<stop offset="0.60" stop-color="#4a98c9"/>
<stop offset="0.65" stop-color="#3b8bc2"/>
<stop offset="0.70" stop-color="#2e7ebc"/>
<stop offset="0.75" stop-color="#2070b4"/>
<stop offset="0.80" stop-color="#1764ab"/>
<stop offset="0.85" stop-color="#0d57a1"/>
<stop offset="0.90" stop-color="#084a91"/>
<stop offset="0.95" stop-color="#083c7d"/>
<stop offset="1.00" stop-color="#08306b"/>
</linearGradient></defs>
<rect x="652.2" y="61.5" width="15.699999999999932" height="59.7" fill="url(#cb)"/>
<line x1="667.9" x2="669.9" y1="121.20" y2="121.20" stroke="#222" stroke-width="0.6"/>
<text x="671.4" y="123.45" font-size="6.7" textLength="9.54" lengthAdjust="spacingAndGlyphs" fill="#000" stroke="#000">0.0</text>
<line x1="667.9" x2="669.9" y1="106.28" y2="106.28" stroke="#222" stroke-width="0.6"/>
<text x="671.4" y="108.53" font-size="6.7" textLength="9.54" lengthAdjust="spacingAndGlyphs" fill="#000" stroke="#000">2.5</text>
<line x1="667.9" x2="669.9" y1="91.35" y2="91.35" stroke="#222" stroke-width="0.6"/>
<text x="671.4" y="93.60" font-size="6.7" textLength="9.54" lengthAdjust="spacingAndGlyphs" fill="#000" stroke="#000">5.0</text>
<line x1="667.9" x2="669.9" y1="76.42" y2="76.42" stroke="#222" stroke-width="0.6"/>
<text x="671.4" y="78.67" font-size="6.7" textLength="9.54" lengthAdjust="spacingAndGlyphs" fill="#000" stroke="#000">7.5</text>
<line x1="667.9" x2="669.9" y1="61.50" y2="61.50" stroke="#222" stroke-width="0.6"/>
<text x="671.4" y="63.75" font-size="6.7" textLength="13.36" lengthAdjust="spacingAndGlyphs" fill="#000" stroke="#000">10.0</text>
<text x="659.9" y="49.5" font-size="8.25" text-anchor="middle" textLength="38.42" lengthAdjust="spacingAndGlyphs" fill="#000" stroke="#000">MultiXcan</text>
<text x="647.03" y="58.7" font-size="8.25" textLength="17.75" lengthAdjust="spacingAndGlyphs" fill="#000" stroke="#000">-log(</text>
<text x="664.78" y="58.7" font-size="8.25" font-style="italic" textLength="4.95" lengthAdjust="spacingAndGlyphs" fill="#000" stroke="#000">p</text>
<text x="669.73" y="58.7" font-size="8.25" textLength="3.04" lengthAdjust="spacingAndGlyphs" fill="#000" stroke="#000">)</text>
<text x="659.0" y="199.0" font-size="8.25" textLength="16.45" lengthAdjust="spacingAndGlyphs" fill="#000" stroke="#000">RCP.</text>
<circle cx="655.8" cy="209.80" r="0.55" fill="#a6a6a6"/>
<text x="667.2" y="212.05" font-size="6.7" textLength="13.34" lengthAdjust="spacingAndGlyphs" fill="#000" stroke="#000">10%</text>
<circle cx="655.8" cy="221.92" r="0.9" fill="#a6a6a6"/>
<text x="667.2" y="224.17" font-size="6.7" textLength="13.34" lengthAdjust="spacingAndGlyphs" fill="#000" stroke="#000">25%</text>
<circle cx="655.8" cy="234.04" r="1.5" fill="#a6a6a6"/>
<text x="667.2" y="236.29" font-size="6.7" textLength="13.34" lengthAdjust="spacingAndGlyphs" fill="#000" stroke="#000">50%</text>
<circle cx="655.8" cy="246.16" r="2.0" fill="#a6a6a6"/>
<text x="667.2" y="248.41" font-size="6.7" textLength="13.34" lengthAdjust="spacingAndGlyphs" fill="#000" stroke="#000">75%</text>
<circle cx="655.8" cy="258.28" r="2.5" fill="#a6a6a6"/>
<text x="667.2" y="260.53" font-size="6.7" textLength="17.15" lengthAdjust="spacingAndGlyphs" fill="#000" stroke="#000">100%</text>
</g>
<text x="-1.7" y="17.4" font-size="23.4" font-weight="bold" style="stroke-width:0.6px" fill="#000" stroke="#000">a</text>
<text x="356.5" y="17.4" font-size="22.8" font-weight="bold" style="stroke-width:0.6px" fill="#000" stroke="#000">b</text>
</svg>
</body>
</html>
